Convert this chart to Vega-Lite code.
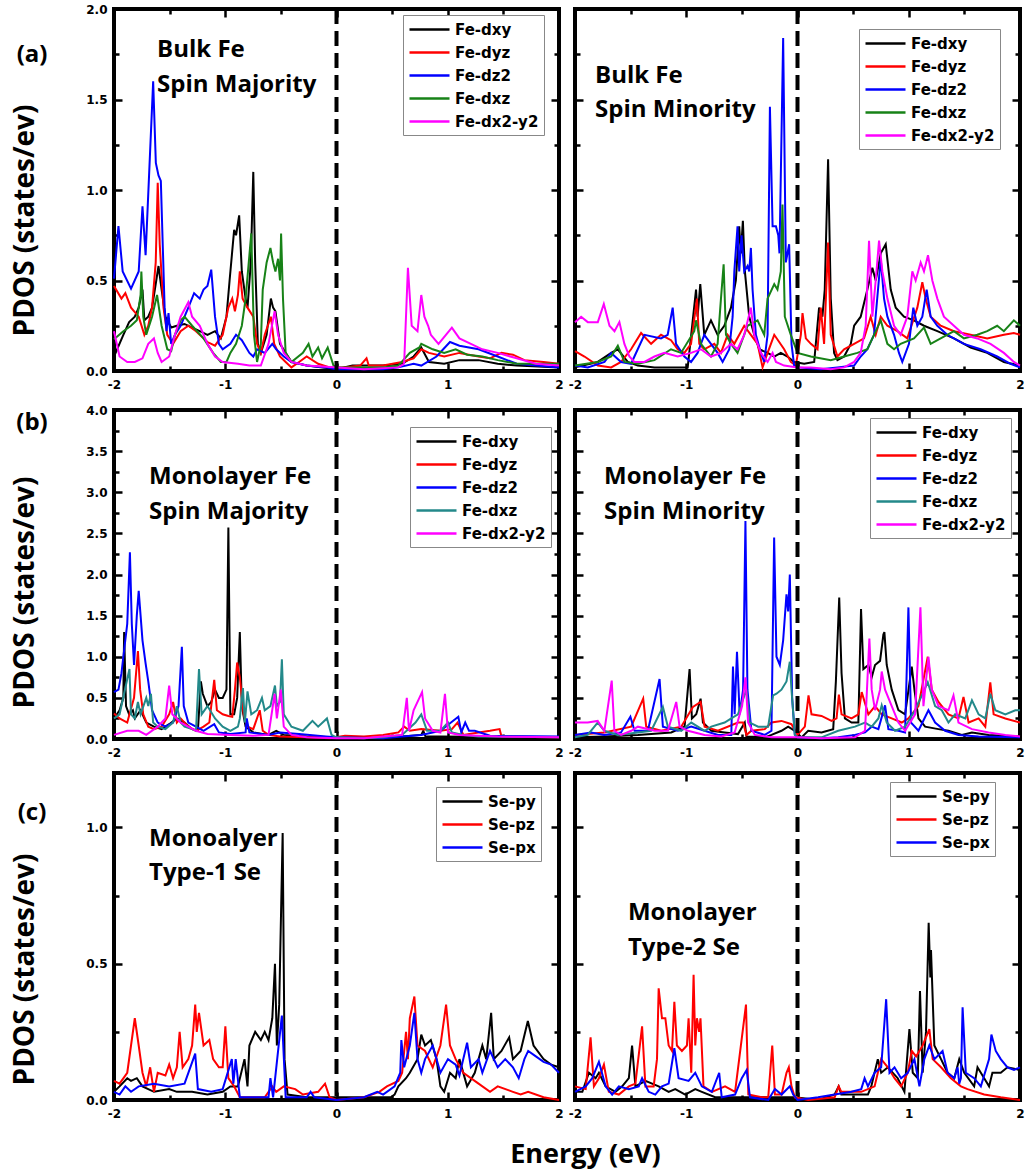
{
"$schema":"https://vega.github.io/schema/vega-lite/v6.json",
"padding":{"left":9,"top":1,"right":5,"bottom":5},
"config":{
"view":{"stroke":"#000","strokeWidth":4},
"axis":{"domain":false,"grid":false,"labelFont":"DejaVu Sans","labelFontWeight":"bold","labelFontSize":12,"labelColor":"#000","tickColor":"#000","tickWidth":2.5,"titleFont":"Open Sans","titleFontWeight":"bold","titleColor":"#000","labelOverlap":false,"labelFlush":false},
"legend":{"strokeColor":"#888","fillColor":"#fff","padding":5,"labelFont":"DejaVu Sans","labelFontWeight":"bold","labelFontSize":15,"labelColor":"#000","rowPadding":5},
"text":{"font":"Open Sans","fontWeight":"bold","color":"#000"}
},
"datasets":{
"a1":[
{"e":-2,"v":0.08,"s":"Fe-dxy"},{"e":-1.916,"v":0.2,"s":"Fe-dxy"},{"e":-1.864,"v":0.27,"s":"Fe-dxy"},{"e":-1.813,"v":0.3,"s":"Fe-dxy"},{"e":-1.778,"v":0.35,"s":"Fe-dxy"},{"e":-1.744,"v":0.45,"s":"Fe-dxy"},{"e":-1.727,"v":0.28,"s":"Fe-dxy"},{"e":-1.692,"v":0.3,"s":"Fe-dxy"},{"e":-1.658,"v":0.35,"s":"Fe-dxy"},{"e":-1.6,"v":0.58,"s":"Fe-dxy"},{"e":-1.572,"v":0.45,"s":"Fe-dxy"},{"e":-1.538,"v":0.3,"s":"Fe-dxy"},{"e":-1.486,"v":0.24,"s":"Fe-dxy"},{"e":-1.435,"v":0.25,"s":"Fe-dxy"},{"e":-1.366,"v":0.26,"s":"Fe-dxy"},{"e":-1.298,"v":0.24,"s":"Fe-dxy"},{"e":-1.229,"v":0.22,"s":"Fe-dxy"},{"e":-1.16,"v":0.2,"s":"Fe-dxy"},{"e":-1.092,"v":0.22,"s":"Fe-dxy"},{"e":-1.04,"v":0.18,"s":"Fe-dxy"},{"e":-0.989,"v":0.3,"s":"Fe-dxy"},{"e":-0.961,"v":0.5,"s":"Fe-dxy"},{"e":-0.92,"v":0.78,"s":"Fe-dxy"},{"e":-0.903,"v":0.75,"s":"Fe-dxy"},{"e":-0.875,"v":0.86,"s":"Fe-dxy"},{"e":-0.851,"v":0.55,"s":"Fe-dxy"},{"e":-0.817,"v":0.4,"s":"Fe-dxy"},{"e":-0.8,"v":0.35,"s":"Fe-dxy"},{"e":-0.776,"v":0.55,"s":"Fe-dxy"},{"e":-0.766,"v":0.7,"s":"Fe-dxy"},{"e":-0.748,"v":1.1,"s":"Fe-dxy"},{"e":-0.731,"v":0.6,"s":"Fe-dxy"},{"e":-0.707,"v":0.15,"s":"Fe-dxy"},{"e":-0.68,"v":0.1,"s":"Fe-dxy"},{"e":-0.628,"v":0.2,"s":"Fe-dxy"},{"e":-0.59,"v":0.4,"s":"Fe-dxy"},{"e":-0.57,"v":0.35,"s":"Fe-dxy"},{"e":-0.549,"v":0.33,"s":"Fe-dxy"},{"e":-0.508,"v":0.15,"s":"Fe-dxy"},{"e":-0.457,"v":0.1,"s":"Fe-dxy"},{"e":-0.405,"v":0.05,"s":"Fe-dxy"},{"e":-0.268,"v":0.03,"s":"Fe-dxy"},{"e":0,"v":0.01,"s":"Fe-dxy"},{"e":0.144,"v":0.03,"s":"Fe-dxy"},{"e":0.419,"v":0.03,"s":"Fe-dxy"},{"e":0.59,"v":0.04,"s":"Fe-dxy"},{"e":0.693,"v":0.08,"s":"Fe-dxy"},{"e":0.762,"v":0.13,"s":"Fe-dxy"},{"e":0.831,"v":0.05,"s":"Fe-dxy"},{"e":0.968,"v":0.04,"s":"Fe-dxy"},{"e":1.105,"v":0.06,"s":"Fe-dxy"},{"e":1.277,"v":0.06,"s":"Fe-dxy"},{"e":1.449,"v":0.04,"s":"Fe-dxy"},{"e":1.62,"v":0.03,"s":"Fe-dxy"},{"e":2,"v":0.02,"s":"Fe-dxy"},
{"e":-2,"v":0.47,"s":"Fe-dyz"},{"e":-1.933,"v":0.4,"s":"Fe-dyz"},{"e":-1.898,"v":0.43,"s":"Fe-dyz"},{"e":-1.847,"v":0.35,"s":"Fe-dyz"},{"e":-1.778,"v":0.3,"s":"Fe-dyz"},{"e":-1.727,"v":0.2,"s":"Fe-dyz"},{"e":-1.692,"v":0.25,"s":"Fe-dyz"},{"e":-1.658,"v":0.35,"s":"Fe-dyz"},{"e":-1.625,"v":0.6,"s":"Fe-dyz"},{"e":-1.607,"v":1.04,"s":"Fe-dyz"},{"e":-1.589,"v":0.7,"s":"Fe-dyz"},{"e":-1.555,"v":0.35,"s":"Fe-dyz"},{"e":-1.521,"v":0.2,"s":"Fe-dyz"},{"e":-1.469,"v":0.15,"s":"Fe-dyz"},{"e":-1.401,"v":0.22,"s":"Fe-dyz"},{"e":-1.332,"v":0.25,"s":"Fe-dyz"},{"e":-1.263,"v":0.22,"s":"Fe-dyz"},{"e":-1.16,"v":0.16,"s":"Fe-dyz"},{"e":-1.092,"v":0.14,"s":"Fe-dyz"},{"e":-1.023,"v":0.2,"s":"Fe-dyz"},{"e":-0.972,"v":0.35,"s":"Fe-dyz"},{"e":-0.937,"v":0.4,"s":"Fe-dyz"},{"e":-0.913,"v":0.33,"s":"Fe-dyz"},{"e":-0.886,"v":0.42,"s":"Fe-dyz"},{"e":-0.869,"v":0.55,"s":"Fe-dyz"},{"e":-0.844,"v":0.4,"s":"Fe-dyz"},{"e":-0.8,"v":0.35,"s":"Fe-dyz"},{"e":-0.748,"v":0.3,"s":"Fe-dyz"},{"e":-0.714,"v":0.15,"s":"Fe-dyz"},{"e":-0.68,"v":0.1,"s":"Fe-dyz"},{"e":-0.645,"v":0.2,"s":"Fe-dyz"},{"e":-0.59,"v":0.3,"s":"Fe-dyz"},{"e":-0.56,"v":0.15,"s":"Fe-dyz"},{"e":-0.508,"v":0.08,"s":"Fe-dyz"},{"e":-0.457,"v":0.05,"s":"Fe-dyz"},{"e":-0.405,"v":0.02,"s":"Fe-dyz"},{"e":-0.336,"v":0.05,"s":"Fe-dyz"},{"e":-0.268,"v":0.08,"s":"Fe-dyz"},{"e":-0.165,"v":0.04,"s":"Fe-dyz"},{"e":-0.062,"v":0.02,"s":"Fe-dyz"},{"e":0.076,"v":0.02,"s":"Fe-dyz"},{"e":0.213,"v":0.03,"s":"Fe-dyz"},{"e":0.27,"v":0.07,"s":"Fe-dyz"},{"e":0.29,"v":0.03,"s":"Fe-dyz"},{"e":0.419,"v":0.03,"s":"Fe-dyz"},{"e":0.59,"v":0.05,"s":"Fe-dyz"},{"e":0.693,"v":0.07,"s":"Fe-dyz"},{"e":0.762,"v":0.12,"s":"Fe-dyz"},{"e":0.831,"v":0.1,"s":"Fe-dyz"},{"e":0.968,"v":0.08,"s":"Fe-dyz"},{"e":1.105,"v":0.1,"s":"Fe-dyz"},{"e":1.277,"v":0.08,"s":"Fe-dyz"},{"e":1.38,"v":0.07,"s":"Fe-dyz"},{"e":1.483,"v":0.1,"s":"Fe-dyz"},{"e":1.586,"v":0.09,"s":"Fe-dyz"},{"e":1.689,"v":0.06,"s":"Fe-dyz"},{"e":1.861,"v":0.05,"s":"Fe-dyz"},{"e":2,"v":0.04,"s":"Fe-dyz"},
{"e":-2,"v":0.51,"s":"Fe-dz2"},{"e":-1.96,"v":0.8,"s":"Fe-dz2"},{"e":-1.922,"v":0.55,"s":"Fe-dz2"},{"e":-1.847,"v":0.455,"s":"Fe-dz2"},{"e":-1.778,"v":0.55,"s":"Fe-dz2"},{"e":-1.744,"v":0.91,"s":"Fe-dz2"},{"e":-1.716,"v":0.64,"s":"Fe-dz2"},{"e":-1.648,"v":1.6,"s":"Fe-dz2"},{"e":-1.624,"v":1.15,"s":"Fe-dz2"},{"e":-1.6,"v":1.08,"s":"Fe-dz2"},{"e":-1.579,"v":1.05,"s":"Fe-dz2"},{"e":-1.545,"v":0.35,"s":"Fe-dz2"},{"e":-1.528,"v":0.22,"s":"Fe-dz2"},{"e":-1.51,"v":0.32,"s":"Fe-dz2"},{"e":-1.486,"v":0.15,"s":"Fe-dz2"},{"e":-1.452,"v":0.2,"s":"Fe-dz2"},{"e":-1.401,"v":0.25,"s":"Fe-dz2"},{"e":-1.332,"v":0.35,"s":"Fe-dz2"},{"e":-1.28,"v":0.43,"s":"Fe-dz2"},{"e":-1.229,"v":0.4,"s":"Fe-dz2"},{"e":-1.195,"v":0.45,"s":"Fe-dz2"},{"e":-1.16,"v":0.47,"s":"Fe-dz2"},{"e":-1.126,"v":0.56,"s":"Fe-dz2"},{"e":-1.092,"v":0.3,"s":"Fe-dz2"},{"e":-1.057,"v":0.15,"s":"Fe-dz2"},{"e":-1.023,"v":0.12,"s":"Fe-dz2"},{"e":-0.954,"v":0.15,"s":"Fe-dz2"},{"e":-0.903,"v":0.2,"s":"Fe-dz2"},{"e":-0.851,"v":0.17,"s":"Fe-dz2"},{"e":-0.783,"v":0.1,"s":"Fe-dz2"},{"e":-0.748,"v":0.08,"s":"Fe-dz2"},{"e":-0.714,"v":0.12,"s":"Fe-dz2"},{"e":-0.645,"v":0.1,"s":"Fe-dz2"},{"e":-0.577,"v":0.15,"s":"Fe-dz2"},{"e":-0.542,"v":0.12,"s":"Fe-dz2"},{"e":-0.474,"v":0.08,"s":"Fe-dz2"},{"e":-0.405,"v":0.05,"s":"Fe-dz2"},{"e":-0.268,"v":0.03,"s":"Fe-dz2"},{"e":-0.096,"v":0.02,"s":"Fe-dz2"},{"e":0,"v":0.01,"s":"Fe-dz2"},{"e":0.419,"v":0.01,"s":"Fe-dz2"},{"e":0.556,"v":0.02,"s":"Fe-dz2"},{"e":0.693,"v":0.04,"s":"Fe-dz2"},{"e":0.762,"v":0.03,"s":"Fe-dz2"},{"e":0.899,"v":0.08,"s":"Fe-dz2"},{"e":1.02,"v":0.16,"s":"Fe-dz2"},{"e":1.105,"v":0.14,"s":"Fe-dz2"},{"e":1.277,"v":0.12,"s":"Fe-dz2"},{"e":1.449,"v":0.08,"s":"Fe-dz2"},{"e":1.62,"v":0.04,"s":"Fe-dz2"},{"e":2,"v":0.02,"s":"Fe-dz2"},
{"e":-2,"v":0.175,"s":"Fe-dxz"},{"e":-1.916,"v":0.22,"s":"Fe-dxz"},{"e":-1.847,"v":0.25,"s":"Fe-dxz"},{"e":-1.795,"v":0.28,"s":"Fe-dxz"},{"e":-1.761,"v":0.42,"s":"Fe-dxz"},{"e":-1.754,"v":0.55,"s":"Fe-dxz"},{"e":-1.737,"v":0.3,"s":"Fe-dxz"},{"e":-1.71,"v":0.2,"s":"Fe-dxz"},{"e":-1.658,"v":0.3,"s":"Fe-dxz"},{"e":-1.613,"v":0.42,"s":"Fe-dxz"},{"e":-1.572,"v":0.25,"s":"Fe-dxz"},{"e":-1.521,"v":0.12,"s":"Fe-dxz"},{"e":-1.486,"v":0.11,"s":"Fe-dxz"},{"e":-1.452,"v":0.2,"s":"Fe-dxz"},{"e":-1.401,"v":0.28,"s":"Fe-dxz"},{"e":-1.366,"v":0.3,"s":"Fe-dxz"},{"e":-1.298,"v":0.25,"s":"Fe-dxz"},{"e":-1.195,"v":0.18,"s":"Fe-dxz"},{"e":-1.109,"v":0.1,"s":"Fe-dxz"},{"e":-1.04,"v":0.05,"s":"Fe-dxz"},{"e":-0.989,"v":0.05,"s":"Fe-dxz"},{"e":-0.954,"v":0.1,"s":"Fe-dxz"},{"e":-0.903,"v":0.15,"s":"Fe-dxz"},{"e":-0.851,"v":0.25,"s":"Fe-dxz"},{"e":-0.817,"v":0.4,"s":"Fe-dxz"},{"e":-0.766,"v":0.76,"s":"Fe-dxz"},{"e":-0.742,"v":0.2,"s":"Fe-dxz"},{"e":-0.714,"v":0.05,"s":"Fe-dxz"},{"e":-0.68,"v":0.15,"s":"Fe-dxz"},{"e":-0.663,"v":0.45,"s":"Fe-dxz"},{"e":-0.628,"v":0.6,"s":"Fe-dxz"},{"e":-0.594,"v":0.68,"s":"Fe-dxz"},{"e":-0.57,"v":0.6,"s":"Fe-dxz"},{"e":-0.549,"v":0.55,"s":"Fe-dxz"},{"e":-0.525,"v":0.62,"s":"Fe-dxz"},{"e":-0.508,"v":0.5,"s":"Fe-dxz"},{"e":-0.498,"v":0.76,"s":"Fe-dxz"},{"e":-0.481,"v":0.4,"s":"Fe-dxz"},{"e":-0.457,"v":0.1,"s":"Fe-dxz"},{"e":-0.405,"v":0.05,"s":"Fe-dxz"},{"e":-0.302,"v":0.1,"s":"Fe-dxz"},{"e":-0.251,"v":0.15,"s":"Fe-dxz"},{"e":-0.216,"v":0.08,"s":"Fe-dxz"},{"e":-0.165,"v":0.13,"s":"Fe-dxz"},{"e":-0.13,"v":0.07,"s":"Fe-dxz"},{"e":-0.079,"v":0.13,"s":"Fe-dxz"},{"e":-0.027,"v":0.03,"s":"Fe-dxz"},{"e":0,"v":0.02,"s":"Fe-dxz"},{"e":0.419,"v":0.02,"s":"Fe-dxz"},{"e":0.556,"v":0.03,"s":"Fe-dxz"},{"e":0.659,"v":0.1,"s":"Fe-dxz"},{"e":0.745,"v":0.13,"s":"Fe-dxz"},{"e":0.762,"v":0.15,"s":"Fe-dxz"},{"e":0.865,"v":0.12,"s":"Fe-dxz"},{"e":0.968,"v":0.1,"s":"Fe-dxz"},{"e":1.071,"v":0.12,"s":"Fe-dxz"},{"e":1.174,"v":0.09,"s":"Fe-dxz"},{"e":1.311,"v":0.08,"s":"Fe-dxz"},{"e":1.449,"v":0.06,"s":"Fe-dxz"},{"e":1.62,"v":0.04,"s":"Fe-dxz"},{"e":2,"v":0.04,"s":"Fe-dxz"},
{"e":-2,"v":0.22,"s":"Fe-dx2-y2"},{"e":-1.95,"v":0.08,"s":"Fe-dx2-y2"},{"e":-1.881,"v":0.05,"s":"Fe-dx2-y2"},{"e":-1.813,"v":0.05,"s":"Fe-dx2-y2"},{"e":-1.744,"v":0.07,"s":"Fe-dx2-y2"},{"e":-1.692,"v":0.15,"s":"Fe-dx2-y2"},{"e":-1.641,"v":0.18,"s":"Fe-dx2-y2"},{"e":-1.607,"v":0.1,"s":"Fe-dx2-y2"},{"e":-1.572,"v":0.05,"s":"Fe-dx2-y2"},{"e":-1.504,"v":0.08,"s":"Fe-dx2-y2"},{"e":-1.452,"v":0.2,"s":"Fe-dx2-y2"},{"e":-1.401,"v":0.3,"s":"Fe-dx2-y2"},{"e":-1.332,"v":0.38,"s":"Fe-dx2-y2"},{"e":-1.298,"v":0.3,"s":"Fe-dx2-y2"},{"e":-1.229,"v":0.25,"s":"Fe-dx2-y2"},{"e":-1.16,"v":0.15,"s":"Fe-dx2-y2"},{"e":-1.092,"v":0.08,"s":"Fe-dx2-y2"},{"e":-1.023,"v":0.05,"s":"Fe-dx2-y2"},{"e":-0.886,"v":0.04,"s":"Fe-dx2-y2"},{"e":-0.783,"v":0.03,"s":"Fe-dx2-y2"},{"e":-0.68,"v":0.03,"s":"Fe-dx2-y2"},{"e":-0.611,"v":0.15,"s":"Fe-dx2-y2"},{"e":-0.556,"v":0.33,"s":"Fe-dx2-y2"},{"e":-0.525,"v":0.2,"s":"Fe-dx2-y2"},{"e":-0.474,"v":0.1,"s":"Fe-dx2-y2"},{"e":-0.405,"v":0.05,"s":"Fe-dx2-y2"},{"e":-0.268,"v":0.03,"s":"Fe-dx2-y2"},{"e":0.007,"v":0.02,"s":"Fe-dx2-y2"},{"e":0.247,"v":0.01,"s":"Fe-dx2-y2"},{"e":0.556,"v":0.02,"s":"Fe-dx2-y2"},{"e":0.608,"v":0.04,"s":"Fe-dx2-y2"},{"e":0.642,"v":0.57,"s":"Fe-dx2-y2"},{"e":0.676,"v":0.25,"s":"Fe-dx2-y2"},{"e":0.728,"v":0.22,"s":"Fe-dx2-y2"},{"e":0.762,"v":0.42,"s":"Fe-dx2-y2"},{"e":0.79,"v":0.3,"s":"Fe-dx2-y2"},{"e":0.824,"v":0.25,"s":"Fe-dx2-y2"},{"e":0.848,"v":0.2,"s":"Fe-dx2-y2"},{"e":0.917,"v":0.15,"s":"Fe-dx2-y2"},{"e":1.037,"v":0.24,"s":"Fe-dx2-y2"},{"e":1.105,"v":0.18,"s":"Fe-dx2-y2"},{"e":1.208,"v":0.15,"s":"Fe-dx2-y2"},{"e":1.311,"v":0.12,"s":"Fe-dx2-y2"},{"e":1.449,"v":0.1,"s":"Fe-dx2-y2"},{"e":1.62,"v":0.07,"s":"Fe-dx2-y2"},{"e":1.792,"v":0.04,"s":"Fe-dx2-y2"},{"e":2,"v":0.03,"s":"Fe-dx2-y2"}
],
"a2":[
{"e":-2,"v":0.02,"s":"Fe-dxy"},{"e":-1.795,"v":0.05,"s":"Fe-dxy"},{"e":-1.675,"v":0.1,"s":"Fe-dxy"},{"e":-1.615,"v":0.12,"s":"Fe-dxy"},{"e":-1.526,"v":0.05,"s":"Fe-dxy"},{"e":-1.436,"v":0.03,"s":"Fe-dxy"},{"e":-1.286,"v":0.02,"s":"Fe-dxy"},{"e":-0.987,"v":0.02,"s":"Fe-dxy"},{"e":-0.912,"v":0.45,"s":"Fe-dxy"},{"e":-0.898,"v":0.3,"s":"Fe-dxy"},{"e":-0.874,"v":0.48,"s":"Fe-dxy"},{"e":-0.838,"v":0.2,"s":"Fe-dxy"},{"e":-0.778,"v":0.28,"s":"Fe-dxy"},{"e":-0.718,"v":0.2,"s":"Fe-dxy"},{"e":-0.658,"v":0.25,"s":"Fe-dxy"},{"e":-0.598,"v":0.35,"s":"Fe-dxy"},{"e":-0.554,"v":0.5,"s":"Fe-dxy"},{"e":-0.524,"v":0.8,"s":"Fe-dxy"},{"e":-0.509,"v":0.65,"s":"Fe-dxy"},{"e":-0.491,"v":0.83,"s":"Fe-dxy"},{"e":-0.473,"v":0.55,"s":"Fe-dxy"},{"e":-0.434,"v":0.3,"s":"Fe-dxy"},{"e":-0.389,"v":0.2,"s":"Fe-dxy"},{"e":-0.344,"v":0.12,"s":"Fe-dxy"},{"e":-0.269,"v":0.1,"s":"Fe-dxy"},{"e":-0.209,"v":0.08,"s":"Fe-dxy"},{"e":-0.15,"v":0.1,"s":"Fe-dxy"},{"e":-0.09,"v":0.08,"s":"Fe-dxy"},{"e":-0.03,"v":0.05,"s":"Fe-dxy"},{"e":0.06,"v":0.04,"s":"Fe-dxy"},{"e":0.15,"v":0.05,"s":"Fe-dxy"},{"e":0.194,"v":0.35,"s":"Fe-dxy"},{"e":0.224,"v":0.3,"s":"Fe-dxy"},{"e":0.245,"v":0.45,"s":"Fe-dxy"},{"e":0.275,"v":1.17,"s":"Fe-dxy"},{"e":0.299,"v":0.4,"s":"Fe-dxy"},{"e":0.329,"v":0.1,"s":"Fe-dxy"},{"e":0.359,"v":0.06,"s":"Fe-dxy"},{"e":0.419,"v":0.08,"s":"Fe-dxy"},{"e":0.479,"v":0.15,"s":"Fe-dxy"},{"e":0.509,"v":0.25,"s":"Fe-dxy"},{"e":0.568,"v":0.3,"s":"Fe-dxy"},{"e":0.628,"v":0.45,"s":"Fe-dxy"},{"e":0.673,"v":0.57,"s":"Fe-dxy"},{"e":0.703,"v":0.5,"s":"Fe-dxy"},{"e":0.748,"v":0.65,"s":"Fe-dxy"},{"e":0.793,"v":0.7,"s":"Fe-dxy"},{"e":0.838,"v":0.45,"s":"Fe-dxy"},{"e":0.883,"v":0.35,"s":"Fe-dxy"},{"e":0.957,"v":0.3,"s":"Fe-dxy"},{"e":1.047,"v":0.28,"s":"Fe-dxy"},{"e":1.137,"v":0.25,"s":"Fe-dxy"},{"e":1.257,"v":0.22,"s":"Fe-dxy"},{"e":1.406,"v":0.18,"s":"Fe-dxy"},{"e":1.556,"v":0.13,"s":"Fe-dxy"},{"e":1.705,"v":0.1,"s":"Fe-dxy"},{"e":1.855,"v":0.05,"s":"Fe-dxy"},{"e":2,"v":0.03,"s":"Fe-dxy"},
{"e":-2,"v":0.11,"s":"Fe-dyz"},{"e":-1.915,"v":0.08,"s":"Fe-dyz"},{"e":-1.795,"v":0.03,"s":"Fe-dyz"},{"e":-1.675,"v":0.02,"s":"Fe-dyz"},{"e":-1.586,"v":0.05,"s":"Fe-dyz"},{"e":-1.496,"v":0.12,"s":"Fe-dyz"},{"e":-1.406,"v":0.21,"s":"Fe-dyz"},{"e":-1.316,"v":0.15,"s":"Fe-dyz"},{"e":-1.227,"v":0.2,"s":"Fe-dyz"},{"e":-1.137,"v":0.17,"s":"Fe-dyz"},{"e":-1.077,"v":0.12,"s":"Fe-dyz"},{"e":-1.017,"v":0.1,"s":"Fe-dyz"},{"e":-0.957,"v":0.15,"s":"Fe-dyz"},{"e":-0.904,"v":0.4,"s":"Fe-dyz"},{"e":-0.883,"v":0.15,"s":"Fe-dyz"},{"e":-0.838,"v":0.12,"s":"Fe-dyz"},{"e":-0.748,"v":0.15,"s":"Fe-dyz"},{"e":-0.688,"v":0.1,"s":"Fe-dyz"},{"e":-0.628,"v":0.2,"s":"Fe-dyz"},{"e":-0.568,"v":0.15,"s":"Fe-dyz"},{"e":-0.479,"v":0.25,"s":"Fe-dyz"},{"e":-0.419,"v":0.2,"s":"Fe-dyz"},{"e":-0.359,"v":0.15,"s":"Fe-dyz"},{"e":-0.314,"v":0.02,"s":"Fe-dyz"},{"e":-0.269,"v":0.1,"s":"Fe-dyz"},{"e":-0.209,"v":0.2,"s":"Fe-dyz"},{"e":-0.12,"v":0.12,"s":"Fe-dyz"},{"e":-0.06,"v":0.05,"s":"Fe-dyz"},{"e":-0.015,"v":0.03,"s":"Fe-dyz"},{"e":0.03,"v":0.2,"s":"Fe-dyz"},{"e":0.045,"v":0.32,"s":"Fe-dyz"},{"e":0.075,"v":0.18,"s":"Fe-dyz"},{"e":0.12,"v":0.15,"s":"Fe-dyz"},{"e":0.18,"v":0.12,"s":"Fe-dyz"},{"e":0.209,"v":0.35,"s":"Fe-dyz"},{"e":0.239,"v":0.15,"s":"Fe-dyz"},{"e":0.275,"v":0.71,"s":"Fe-dyz"},{"e":0.299,"v":0.2,"s":"Fe-dyz"},{"e":0.359,"v":0.08,"s":"Fe-dyz"},{"e":0.419,"v":0.12,"s":"Fe-dyz"},{"e":0.509,"v":0.15,"s":"Fe-dyz"},{"e":0.598,"v":0.18,"s":"Fe-dyz"},{"e":0.658,"v":0.3,"s":"Fe-dyz"},{"e":0.703,"v":0.2,"s":"Fe-dyz"},{"e":0.748,"v":0.3,"s":"Fe-dyz"},{"e":0.808,"v":0.25,"s":"Fe-dyz"},{"e":0.898,"v":0.22,"s":"Fe-dyz"},{"e":0.987,"v":0.18,"s":"Fe-dyz"},{"e":1.077,"v":0.35,"s":"Fe-dyz"},{"e":1.122,"v":0.49,"s":"Fe-dyz"},{"e":1.152,"v":0.4,"s":"Fe-dyz"},{"e":1.197,"v":0.3,"s":"Fe-dyz"},{"e":1.287,"v":0.25,"s":"Fe-dyz"},{"e":1.406,"v":0.22,"s":"Fe-dyz"},{"e":1.556,"v":0.2,"s":"Fe-dyz"},{"e":1.705,"v":0.18,"s":"Fe-dyz"},{"e":1.855,"v":0.2,"s":"Fe-dyz"},{"e":1.945,"v":0.21,"s":"Fe-dyz"},{"e":2,"v":0.2,"s":"Fe-dyz"},
{"e":-2,"v":0.03,"s":"Fe-dz2"},{"e":-1.885,"v":0.02,"s":"Fe-dz2"},{"e":-1.735,"v":0.05,"s":"Fe-dz2"},{"e":-1.675,"v":0.1,"s":"Fe-dz2"},{"e":-1.586,"v":0.05,"s":"Fe-dz2"},{"e":-1.496,"v":0.04,"s":"Fe-dz2"},{"e":-1.436,"v":0.12,"s":"Fe-dz2"},{"e":-1.376,"v":0.2,"s":"Fe-dz2"},{"e":-1.227,"v":0.18,"s":"Fe-dz2"},{"e":-1.167,"v":0.2,"s":"Fe-dz2"},{"e":-1.122,"v":0.35,"s":"Fe-dz2"},{"e":-1.092,"v":0.15,"s":"Fe-dz2"},{"e":-1.017,"v":0.08,"s":"Fe-dz2"},{"e":-0.957,"v":0.05,"s":"Fe-dz2"},{"e":-0.898,"v":0.1,"s":"Fe-dz2"},{"e":-0.838,"v":0.2,"s":"Fe-dz2"},{"e":-0.778,"v":0.15,"s":"Fe-dz2"},{"e":-0.718,"v":0.1,"s":"Fe-dz2"},{"e":-0.673,"v":0.05,"s":"Fe-dz2"},{"e":-0.613,"v":0.12,"s":"Fe-dz2"},{"e":-0.583,"v":0.3,"s":"Fe-dz2"},{"e":-0.568,"v":0.55,"s":"Fe-dz2"},{"e":-0.539,"v":0.8,"s":"Fe-dz2"},{"e":-0.524,"v":0.55,"s":"Fe-dz2"},{"e":-0.503,"v":0.75,"s":"Fe-dz2"},{"e":-0.479,"v":0.55,"s":"Fe-dz2"},{"e":-0.449,"v":0.58,"s":"Fe-dz2"},{"e":-0.434,"v":0.55,"s":"Fe-dz2"},{"e":-0.419,"v":0.68,"s":"Fe-dz2"},{"e":-0.404,"v":0.45,"s":"Fe-dz2"},{"e":-0.374,"v":0.2,"s":"Fe-dz2"},{"e":-0.329,"v":0.1,"s":"Fe-dz2"},{"e":-0.299,"v":0.05,"s":"Fe-dz2"},{"e":-0.269,"v":0.2,"s":"Fe-dz2"},{"e":-0.248,"v":1.46,"s":"Fe-dz2"},{"e":-0.224,"v":0.8,"s":"Fe-dz2"},{"e":-0.194,"v":0.8,"s":"Fe-dz2"},{"e":-0.173,"v":0.75,"s":"Fe-dz2"},{"e":-0.162,"v":0.65,"s":"Fe-dz2"},{"e":-0.129,"v":1.84,"s":"Fe-dz2"},{"e":-0.105,"v":0.6,"s":"Fe-dz2"},{"e":-0.075,"v":0.7,"s":"Fe-dz2"},{"e":-0.054,"v":0.15,"s":"Fe-dz2"},{"e":-0.03,"v":0.03,"s":"Fe-dz2"},{"e":0,"v":0.02,"s":"Fe-dz2"},{"e":0.209,"v":0.01,"s":"Fe-dz2"},{"e":0.359,"v":0.02,"s":"Fe-dz2"},{"e":0.509,"v":0.03,"s":"Fe-dz2"},{"e":0.568,"v":0.08,"s":"Fe-dz2"},{"e":0.628,"v":0.12,"s":"Fe-dz2"},{"e":0.688,"v":0.2,"s":"Fe-dz2"},{"e":0.748,"v":0.62,"s":"Fe-dz2"},{"e":0.778,"v":0.4,"s":"Fe-dz2"},{"e":0.808,"v":0.3,"s":"Fe-dz2"},{"e":0.868,"v":0.2,"s":"Fe-dz2"},{"e":0.912,"v":0.1,"s":"Fe-dz2"},{"e":0.942,"v":0.05,"s":"Fe-dz2"},{"e":1.002,"v":0.15,"s":"Fe-dz2"},{"e":1.041,"v":0.35,"s":"Fe-dz2"},{"e":1.077,"v":0.25,"s":"Fe-dz2"},{"e":1.122,"v":0.3,"s":"Fe-dz2"},{"e":1.161,"v":0.45,"s":"Fe-dz2"},{"e":1.197,"v":0.3,"s":"Fe-dz2"},{"e":1.257,"v":0.25,"s":"Fe-dz2"},{"e":1.346,"v":0.2,"s":"Fe-dz2"},{"e":1.496,"v":0.15,"s":"Fe-dz2"},{"e":1.646,"v":0.12,"s":"Fe-dz2"},{"e":1.795,"v":0.08,"s":"Fe-dz2"},{"e":1.915,"v":0.04,"s":"Fe-dz2"},{"e":2,"v":0.02,"s":"Fe-dz2"},
{"e":-2,"v":0.03,"s":"Fe-dxz"},{"e":-1.795,"v":0.05,"s":"Fe-dxz"},{"e":-1.675,"v":0.08,"s":"Fe-dxz"},{"e":-1.615,"v":0.14,"s":"Fe-dxz"},{"e":-1.556,"v":0.05,"s":"Fe-dxz"},{"e":-1.436,"v":0.04,"s":"Fe-dxz"},{"e":-1.286,"v":0.06,"s":"Fe-dxz"},{"e":-1.137,"v":0.12,"s":"Fe-dxz"},{"e":-1.047,"v":0.1,"s":"Fe-dxz"},{"e":-0.928,"v":0.22,"s":"Fe-dxz"},{"e":-0.912,"v":0.28,"s":"Fe-dxz"},{"e":-0.868,"v":0.15,"s":"Fe-dxz"},{"e":-0.778,"v":0.08,"s":"Fe-dxz"},{"e":-0.718,"v":0.15,"s":"Fe-dxz"},{"e":-0.688,"v":0.4,"s":"Fe-dxz"},{"e":-0.664,"v":0.59,"s":"Fe-dxz"},{"e":-0.643,"v":0.2,"s":"Fe-dxz"},{"e":-0.598,"v":0.15,"s":"Fe-dxz"},{"e":-0.539,"v":0.1,"s":"Fe-dxz"},{"e":-0.449,"v":0.25,"s":"Fe-dxz"},{"e":-0.359,"v":0.28,"s":"Fe-dxz"},{"e":-0.299,"v":0.2,"s":"Fe-dxz"},{"e":-0.269,"v":0.4,"s":"Fe-dxz"},{"e":-0.209,"v":0.48,"s":"Fe-dxz"},{"e":-0.18,"v":0.45,"s":"Fe-dxz"},{"e":-0.15,"v":0.55,"s":"Fe-dxz"},{"e":-0.135,"v":0.92,"s":"Fe-dxz"},{"e":-0.114,"v":0.3,"s":"Fe-dxz"},{"e":-0.06,"v":0.2,"s":"Fe-dxz"},{"e":0,"v":0.1,"s":"Fe-dxz"},{"e":0.12,"v":0.08,"s":"Fe-dxz"},{"e":0.299,"v":0.06,"s":"Fe-dxz"},{"e":0.419,"v":0.08,"s":"Fe-dxz"},{"e":0.538,"v":0.1,"s":"Fe-dxz"},{"e":0.628,"v":0.12,"s":"Fe-dxz"},{"e":0.688,"v":0.2,"s":"Fe-dxz"},{"e":0.748,"v":0.28,"s":"Fe-dxz"},{"e":0.808,"v":0.15,"s":"Fe-dxz"},{"e":0.868,"v":0.12,"s":"Fe-dxz"},{"e":0.927,"v":0.15,"s":"Fe-dxz"},{"e":1.047,"v":0.18,"s":"Fe-dxz"},{"e":1.137,"v":0.24,"s":"Fe-dxz"},{"e":1.197,"v":0.15,"s":"Fe-dxz"},{"e":1.287,"v":0.18,"s":"Fe-dxz"},{"e":1.406,"v":0.22,"s":"Fe-dxz"},{"e":1.496,"v":0.18,"s":"Fe-dxz"},{"e":1.616,"v":0.2,"s":"Fe-dxz"},{"e":1.705,"v":0.22,"s":"Fe-dxz"},{"e":1.795,"v":0.25,"s":"Fe-dxz"},{"e":1.855,"v":0.22,"s":"Fe-dxz"},{"e":1.945,"v":0.28,"s":"Fe-dxz"},{"e":2,"v":0.25,"s":"Fe-dxz"},
{"e":-2,"v":0.27,"s":"Fe-dx2-y2"},{"e":-1.945,"v":0.3,"s":"Fe-dx2-y2"},{"e":-1.885,"v":0.27,"s":"Fe-dx2-y2"},{"e":-1.795,"v":0.27,"s":"Fe-dx2-y2"},{"e":-1.741,"v":0.37,"s":"Fe-dx2-y2"},{"e":-1.69,"v":0.25,"s":"Fe-dx2-y2"},{"e":-1.645,"v":0.22,"s":"Fe-dx2-y2"},{"e":-1.601,"v":0.27,"s":"Fe-dx2-y2"},{"e":-1.556,"v":0.15,"s":"Fe-dx2-y2"},{"e":-1.511,"v":0.08,"s":"Fe-dx2-y2"},{"e":-1.466,"v":0.05,"s":"Fe-dx2-y2"},{"e":-1.376,"v":0.05,"s":"Fe-dx2-y2"},{"e":-1.286,"v":0.08,"s":"Fe-dx2-y2"},{"e":-1.197,"v":0.1,"s":"Fe-dx2-y2"},{"e":-1.077,"v":0.08,"s":"Fe-dx2-y2"},{"e":-0.957,"v":0.1,"s":"Fe-dx2-y2"},{"e":-0.868,"v":0.12,"s":"Fe-dx2-y2"},{"e":-0.778,"v":0.08,"s":"Fe-dx2-y2"},{"e":-0.688,"v":0.1,"s":"Fe-dx2-y2"},{"e":-0.598,"v":0.15,"s":"Fe-dx2-y2"},{"e":-0.539,"v":0.12,"s":"Fe-dx2-y2"},{"e":-0.479,"v":0.2,"s":"Fe-dx2-y2"},{"e":-0.419,"v":0.35,"s":"Fe-dx2-y2"},{"e":-0.389,"v":0.2,"s":"Fe-dx2-y2"},{"e":-0.329,"v":0.1,"s":"Fe-dx2-y2"},{"e":-0.269,"v":0.05,"s":"Fe-dx2-y2"},{"e":-0.224,"v":0.1,"s":"Fe-dx2-y2"},{"e":-0.194,"v":0.05,"s":"Fe-dx2-y2"},{"e":-0.12,"v":0.03,"s":"Fe-dx2-y2"},{"e":0,"v":0.02,"s":"Fe-dx2-y2"},{"e":0.12,"v":0.02,"s":"Fe-dx2-y2"},{"e":0.299,"v":0.01,"s":"Fe-dx2-y2"},{"e":0.419,"v":0.02,"s":"Fe-dx2-y2"},{"e":0.509,"v":0.05,"s":"Fe-dx2-y2"},{"e":0.568,"v":0.1,"s":"Fe-dx2-y2"},{"e":0.613,"v":0.25,"s":"Fe-dx2-y2"},{"e":0.643,"v":0.72,"s":"Fe-dx2-y2"},{"e":0.673,"v":0.3,"s":"Fe-dx2-y2"},{"e":0.703,"v":0.5,"s":"Fe-dx2-y2"},{"e":0.733,"v":0.72,"s":"Fe-dx2-y2"},{"e":0.763,"v":0.55,"s":"Fe-dx2-y2"},{"e":0.808,"v":0.4,"s":"Fe-dx2-y2"},{"e":0.868,"v":0.25,"s":"Fe-dx2-y2"},{"e":0.927,"v":0.2,"s":"Fe-dx2-y2"},{"e":0.987,"v":0.3,"s":"Fe-dx2-y2"},{"e":1.032,"v":0.55,"s":"Fe-dx2-y2"},{"e":1.062,"v":0.5,"s":"Fe-dx2-y2"},{"e":1.107,"v":0.6,"s":"Fe-dx2-y2"},{"e":1.137,"v":0.55,"s":"Fe-dx2-y2"},{"e":1.173,"v":0.64,"s":"Fe-dx2-y2"},{"e":1.212,"v":0.5,"s":"Fe-dx2-y2"},{"e":1.257,"v":0.4,"s":"Fe-dx2-y2"},{"e":1.316,"v":0.3,"s":"Fe-dx2-y2"},{"e":1.406,"v":0.25,"s":"Fe-dx2-y2"},{"e":1.496,"v":0.2,"s":"Fe-dx2-y2"},{"e":1.616,"v":0.18,"s":"Fe-dx2-y2"},{"e":1.735,"v":0.15,"s":"Fe-dx2-y2"},{"e":1.855,"v":0.1,"s":"Fe-dx2-y2"},{"e":1.945,"v":0.05,"s":"Fe-dx2-y2"},{"e":2,"v":0.03,"s":"Fe-dx2-y2"}
],
"b1":[
{"e":-2,"v":0.25,"s":"Fe-dxy"},{"e":-1.95,"v":0.35,"s":"Fe-dxy"},{"e":-1.916,"v":0.5,"s":"Fe-dxy"},{"e":-1.909,"v":1.3,"s":"Fe-dxy"},{"e":-1.892,"v":0.4,"s":"Fe-dxy"},{"e":-1.864,"v":0.3,"s":"Fe-dxy"},{"e":-1.83,"v":0.35,"s":"Fe-dxy"},{"e":-1.813,"v":0.25,"s":"Fe-dxy"},{"e":-1.761,"v":0.35,"s":"Fe-dxy"},{"e":-1.71,"v":0.2,"s":"Fe-dxy"},{"e":-1.641,"v":0.15,"s":"Fe-dxy"},{"e":-1.572,"v":0.12,"s":"Fe-dxy"},{"e":-1.504,"v":0.18,"s":"Fe-dxy"},{"e":-1.435,"v":0.25,"s":"Fe-dxy"},{"e":-1.366,"v":0.2,"s":"Fe-dxy"},{"e":-1.298,"v":0.12,"s":"Fe-dxy"},{"e":-1.246,"v":0.1,"s":"Fe-dxy"},{"e":-1.219,"v":0.7,"s":"Fe-dxy"},{"e":-1.202,"v":0.55,"s":"Fe-dxy"},{"e":-1.16,"v":0.4,"s":"Fe-dxy"},{"e":-1.126,"v":0.45,"s":"Fe-dxy"},{"e":-1.092,"v":0.6,"s":"Fe-dxy"},{"e":-1.057,"v":0.5,"s":"Fe-dxy"},{"e":-1.023,"v":0.5,"s":"Fe-dxy"},{"e":-0.989,"v":0.6,"s":"Fe-dxy"},{"e":-0.972,"v":2.57,"s":"Fe-dxy"},{"e":-0.954,"v":0.3,"s":"Fe-dxy"},{"e":-0.92,"v":0.3,"s":"Fe-dxy"},{"e":-0.893,"v":0.5,"s":"Fe-dxy"},{"e":-0.869,"v":1.3,"s":"Fe-dxy"},{"e":-0.851,"v":0.4,"s":"Fe-dxy"},{"e":-0.817,"v":0.15,"s":"Fe-dxy"},{"e":-0.748,"v":0.08,"s":"Fe-dxy"},{"e":-0.611,"v":0.05,"s":"Fe-dxy"},{"e":-0.542,"v":0.1,"s":"Fe-dxy"},{"e":-0.474,"v":0.05,"s":"Fe-dxy"},{"e":-0.268,"v":0.03,"s":"Fe-dxy"},{"e":0,"v":0.02,"s":"Fe-dxy"},{"e":0.247,"v":0.01,"s":"Fe-dxy"},{"e":0.419,"v":0.02,"s":"Fe-dxy"},{"e":0.59,"v":0.03,"s":"Fe-dxy"},{"e":0.762,"v":0.05,"s":"Fe-dxy"},{"e":0.78,"v":0.1,"s":"Fe-dxy"},{"e":0.8,"v":0.03,"s":"Fe-dxy"},{"e":0.934,"v":0.03,"s":"Fe-dxy"},{"e":2,"v":0.02,"s":"Fe-dxy"},
{"e":-2,"v":0.31,"s":"Fe-dyz"},{"e":-1.95,"v":0.25,"s":"Fe-dyz"},{"e":-1.881,"v":0.2,"s":"Fe-dyz"},{"e":-1.82,"v":0.5,"s":"Fe-dyz"},{"e":-1.785,"v":1.07,"s":"Fe-dyz"},{"e":-1.765,"v":0.6,"s":"Fe-dyz"},{"e":-1.737,"v":0.3,"s":"Fe-dyz"},{"e":-1.692,"v":0.15,"s":"Fe-dyz"},{"e":-1.641,"v":0.12,"s":"Fe-dyz"},{"e":-1.572,"v":0.15,"s":"Fe-dyz"},{"e":-1.504,"v":0.3,"s":"Fe-dyz"},{"e":-1.469,"v":0.45,"s":"Fe-dyz"},{"e":-1.435,"v":0.2,"s":"Fe-dyz"},{"e":-1.401,"v":0.25,"s":"Fe-dyz"},{"e":-1.332,"v":0.15,"s":"Fe-dyz"},{"e":-1.263,"v":0.1,"s":"Fe-dyz"},{"e":-1.195,"v":0.15,"s":"Fe-dyz"},{"e":-1.143,"v":0.2,"s":"Fe-dyz"},{"e":-1.099,"v":0.72,"s":"Fe-dyz"},{"e":-1.075,"v":0.35,"s":"Fe-dyz"},{"e":-1.023,"v":0.3,"s":"Fe-dyz"},{"e":-0.972,"v":0.28,"s":"Fe-dyz"},{"e":-0.937,"v":0.27,"s":"Fe-dyz"},{"e":-0.913,"v":0.6,"s":"Fe-dyz"},{"e":-0.893,"v":0.93,"s":"Fe-dyz"},{"e":-0.869,"v":0.75,"s":"Fe-dyz"},{"e":-0.835,"v":0.3,"s":"Fe-dyz"},{"e":-0.8,"v":0.15,"s":"Fe-dyz"},{"e":-0.748,"v":0.12,"s":"Fe-dyz"},{"e":-0.69,"v":0.35,"s":"Fe-dyz"},{"e":-0.663,"v":0.1,"s":"Fe-dyz"},{"e":-0.611,"v":0.05,"s":"Fe-dyz"},{"e":-0.508,"v":0.03,"s":"Fe-dyz"},{"e":-0.268,"v":0.02,"s":"Fe-dyz"},{"e":-0.062,"v":0.01,"s":"Fe-dyz"},{"e":0.076,"v":0.04,"s":"Fe-dyz"},{"e":0.247,"v":0.03,"s":"Fe-dyz"},{"e":0.419,"v":0.05,"s":"Fe-dyz"},{"e":0.556,"v":0.08,"s":"Fe-dyz"},{"e":0.608,"v":0.15,"s":"Fe-dyz"},{"e":0.659,"v":0.1,"s":"Fe-dyz"},{"e":0.762,"v":0.12,"s":"Fe-dyz"},{"e":0.934,"v":0.1,"s":"Fe-dyz"},{"e":1.037,"v":0.12,"s":"Fe-dyz"},{"e":1.088,"v":0.2,"s":"Fe-dyz"},{"e":1.14,"v":0.05,"s":"Fe-dyz"},{"e":1.277,"v":0.08,"s":"Fe-dyz"},{"e":1.38,"v":0.1,"s":"Fe-dyz"},{"e":1.466,"v":0.12,"s":"Fe-dyz"},{"e":1.483,"v":0.03,"s":"Fe-dyz"},{"e":2,"v":0.02,"s":"Fe-dyz"},
{"e":-2,"v":0.57,"s":"Fe-dz2"},{"e":-1.96,"v":0.6,"s":"Fe-dz2"},{"e":-1.933,"v":0.8,"s":"Fe-dz2"},{"e":-1.916,"v":1.0,"s":"Fe-dz2"},{"e":-1.881,"v":1.4,"s":"Fe-dz2"},{"e":-1.857,"v":2.27,"s":"Fe-dz2"},{"e":-1.84,"v":1.4,"s":"Fe-dz2"},{"e":-1.82,"v":0.9,"s":"Fe-dz2"},{"e":-1.795,"v":1.5,"s":"Fe-dz2"},{"e":-1.778,"v":1.8,"s":"Fe-dz2"},{"e":-1.761,"v":1.5,"s":"Fe-dz2"},{"e":-1.744,"v":1.2,"s":"Fe-dz2"},{"e":-1.716,"v":0.92,"s":"Fe-dz2"},{"e":-1.692,"v":0.7,"s":"Fe-dz2"},{"e":-1.658,"v":0.35,"s":"Fe-dz2"},{"e":-1.607,"v":0.2,"s":"Fe-dz2"},{"e":-1.538,"v":0.15,"s":"Fe-dz2"},{"e":-1.469,"v":0.2,"s":"Fe-dz2"},{"e":-1.42,"v":0.4,"s":"Fe-dz2"},{"e":-1.39,"v":1.12,"s":"Fe-dz2"},{"e":-1.373,"v":0.4,"s":"Fe-dz2"},{"e":-1.332,"v":0.2,"s":"Fe-dz2"},{"e":-1.263,"v":0.15,"s":"Fe-dz2"},{"e":-1.195,"v":0.1,"s":"Fe-dz2"},{"e":-1.099,"v":0.18,"s":"Fe-dz2"},{"e":-1.057,"v":0.08,"s":"Fe-dz2"},{"e":-0.954,"v":0.06,"s":"Fe-dz2"},{"e":-0.817,"v":0.08,"s":"Fe-dz2"},{"e":-0.807,"v":0.25,"s":"Fe-dz2"},{"e":-0.783,"v":0.08,"s":"Fe-dz2"},{"e":-0.611,"v":0.05,"s":"Fe-dz2"},{"e":-0.508,"v":0.08,"s":"Fe-dz2"},{"e":-0.336,"v":0.06,"s":"Fe-dz2"},{"e":-0.096,"v":0.03,"s":"Fe-dz2"},{"e":0,"v":0.02,"s":"Fe-dz2"},{"e":0.419,"v":0.01,"s":"Fe-dz2"},{"e":0.59,"v":0.03,"s":"Fe-dz2"},{"e":0.762,"v":0.05,"s":"Fe-dz2"},{"e":0.934,"v":0.1,"s":"Fe-dz2"},{"e":1.095,"v":0.27,"s":"Fe-dz2"},{"e":1.122,"v":0.08,"s":"Fe-dz2"},{"e":1.157,"v":0.2,"s":"Fe-dz2"},{"e":1.191,"v":0.1,"s":"Fe-dz2"},{"e":1.243,"v":0.1,"s":"Fe-dz2"},{"e":1.38,"v":0.04,"s":"Fe-dz2"},{"e":2,"v":0.03,"s":"Fe-dz2"},
{"e":-2,"v":0.25,"s":"Fe-dxz"},{"e":-1.95,"v":0.3,"s":"Fe-dxz"},{"e":-1.861,"v":0.85,"s":"Fe-dxz"},{"e":-1.847,"v":0.3,"s":"Fe-dxz"},{"e":-1.813,"v":0.25,"s":"Fe-dxz"},{"e":-1.785,"v":0.45,"s":"Fe-dxz"},{"e":-1.761,"v":0.3,"s":"Fe-dxz"},{"e":-1.71,"v":0.5,"s":"Fe-dxz"},{"e":-1.692,"v":0.4,"s":"Fe-dxz"},{"e":-1.668,"v":0.55,"s":"Fe-dxz"},{"e":-1.648,"v":0.2,"s":"Fe-dxz"},{"e":-1.607,"v":0.15,"s":"Fe-dxz"},{"e":-1.538,"v":0.12,"s":"Fe-dxz"},{"e":-1.469,"v":0.2,"s":"Fe-dxz"},{"e":-1.435,"v":0.4,"s":"Fe-dxz"},{"e":-1.401,"v":0.2,"s":"Fe-dxz"},{"e":-1.366,"v":0.15,"s":"Fe-dxz"},{"e":-1.298,"v":0.12,"s":"Fe-dxz"},{"e":-1.263,"v":0.1,"s":"Fe-dxz"},{"e":-1.236,"v":0.85,"s":"Fe-dxz"},{"e":-1.212,"v":0.3,"s":"Fe-dxz"},{"e":-1.16,"v":0.4,"s":"Fe-dxz"},{"e":-1.092,"v":0.25,"s":"Fe-dxz"},{"e":-1.023,"v":0.15,"s":"Fe-dxz"},{"e":-0.954,"v":0.1,"s":"Fe-dxz"},{"e":-0.886,"v":0.15,"s":"Fe-dxz"},{"e":-0.869,"v":0.25,"s":"Fe-dxz"},{"e":-0.841,"v":0.62,"s":"Fe-dxz"},{"e":-0.824,"v":0.2,"s":"Fe-dxz"},{"e":-0.8,"v":0.58,"s":"Fe-dxz"},{"e":-0.766,"v":0.3,"s":"Fe-dxz"},{"e":-0.714,"v":0.35,"s":"Fe-dxz"},{"e":-0.67,"v":0.5,"s":"Fe-dxz"},{"e":-0.645,"v":0.35,"s":"Fe-dxz"},{"e":-0.594,"v":0.4,"s":"Fe-dxz"},{"e":-0.553,"v":0.65,"s":"Fe-dxz"},{"e":-0.536,"v":0.4,"s":"Fe-dxz"},{"e":-0.508,"v":0.45,"s":"Fe-dxz"},{"e":-0.491,"v":0.97,"s":"Fe-dxz"},{"e":-0.474,"v":0.3,"s":"Fe-dxz"},{"e":-0.405,"v":0.15,"s":"Fe-dxz"},{"e":-0.302,"v":0.1,"s":"Fe-dxz"},{"e":-0.216,"v":0.22,"s":"Fe-dxz"},{"e":-0.165,"v":0.15,"s":"Fe-dxz"},{"e":-0.086,"v":0.25,"s":"Fe-dxz"},{"e":-0.045,"v":0.05,"s":"Fe-dxz"},{"e":0,"v":0.02,"s":"Fe-dxz"},{"e":0.247,"v":0.01,"s":"Fe-dxz"},{"e":0.419,"v":0.02,"s":"Fe-dxz"},{"e":0.59,"v":0.05,"s":"Fe-dxz"},{"e":0.71,"v":0.2,"s":"Fe-dxz"},{"e":0.762,"v":0.3,"s":"Fe-dxz"},{"e":0.814,"v":0.1,"s":"Fe-dxz"},{"e":0.934,"v":0.1,"s":"Fe-dxz"},{"e":1.002,"v":0.2,"s":"Fe-dxz"},{"e":1.037,"v":0.08,"s":"Fe-dxz"},{"e":1.14,"v":0.05,"s":"Fe-dxz"},{"e":1.277,"v":0.03,"s":"Fe-dxz"},{"e":2,"v":0.02,"s":"Fe-dxz"},
{"e":-2,"v":0.05,"s":"Fe-dx2-y2"},{"e":-1.881,"v":0.1,"s":"Fe-dx2-y2"},{"e":-1.778,"v":0.1,"s":"Fe-dx2-y2"},{"e":-1.71,"v":0.05,"s":"Fe-dx2-y2"},{"e":-1.607,"v":0.15,"s":"Fe-dx2-y2"},{"e":-1.538,"v":0.25,"s":"Fe-dx2-y2"},{"e":-1.504,"v":0.65,"s":"Fe-dx2-y2"},{"e":-1.476,"v":0.3,"s":"Fe-dx2-y2"},{"e":-1.401,"v":0.2,"s":"Fe-dx2-y2"},{"e":-1.332,"v":0.15,"s":"Fe-dx2-y2"},{"e":-1.263,"v":0.1,"s":"Fe-dx2-y2"},{"e":-1.16,"v":0.06,"s":"Fe-dx2-y2"},{"e":-0.954,"v":0.05,"s":"Fe-dx2-y2"},{"e":-0.748,"v":0.04,"s":"Fe-dx2-y2"},{"e":-0.611,"v":0.05,"s":"Fe-dx2-y2"},{"e":-0.556,"v":0.55,"s":"Fe-dx2-y2"},{"e":-0.536,"v":0.25,"s":"Fe-dx2-y2"},{"e":-0.501,"v":0.6,"s":"Fe-dx2-y2"},{"e":-0.474,"v":0.15,"s":"Fe-dx2-y2"},{"e":-0.405,"v":0.05,"s":"Fe-dx2-y2"},{"e":-0.268,"v":0.02,"s":"Fe-dx2-y2"},{"e":0,"v":0.01,"s":"Fe-dx2-y2"},{"e":0.247,"v":0.01,"s":"Fe-dx2-y2"},{"e":0.419,"v":0.03,"s":"Fe-dx2-y2"},{"e":0.59,"v":0.05,"s":"Fe-dx2-y2"},{"e":0.632,"v":0.5,"s":"Fe-dx2-y2"},{"e":0.652,"v":0.1,"s":"Fe-dx2-y2"},{"e":0.693,"v":0.35,"s":"Fe-dx2-y2"},{"e":0.745,"v":0.5,"s":"Fe-dx2-y2"},{"e":0.769,"v":0.57,"s":"Fe-dx2-y2"},{"e":0.796,"v":0.25,"s":"Fe-dx2-y2"},{"e":0.865,"v":0.1,"s":"Fe-dx2-y2"},{"e":0.934,"v":0.08,"s":"Fe-dx2-y2"},{"e":0.975,"v":0.55,"s":"Fe-dx2-y2"},{"e":1.002,"v":0.08,"s":"Fe-dx2-y2"},{"e":1.105,"v":0.05,"s":"Fe-dx2-y2"},{"e":1.449,"v":0.03,"s":"Fe-dx2-y2"},{"e":2,"v":0.02,"s":"Fe-dx2-y2"}
],
"b2":[
{"e":-2,"v":0.02,"s":"Fe-dxy"},{"e":-1.736,"v":0.03,"s":"Fe-dxy"},{"e":-1.435,"v":0.05,"s":"Fe-dxy"},{"e":-1.135,"v":0.08,"s":"Fe-dxy"},{"e":-1.015,"v":0.15,"s":"Fe-dxy"},{"e":-0.97,"v":0.85,"s":"Fe-dxy"},{"e":-0.949,"v":0.25,"s":"Fe-dxy"},{"e":-0.91,"v":0.3,"s":"Fe-dxy"},{"e":-0.871,"v":0.49,"s":"Fe-dxy"},{"e":-0.85,"v":0.2,"s":"Fe-dxy"},{"e":-0.775,"v":0.1,"s":"Fe-dxy"},{"e":-0.655,"v":0.08,"s":"Fe-dxy"},{"e":-0.535,"v":0.06,"s":"Fe-dxy"},{"e":-0.474,"v":0.2,"s":"Fe-dxy"},{"e":-0.459,"v":0.03,"s":"Fe-dxy"},{"e":-0.294,"v":0.02,"s":"Fe-dxy"},{"e":-0.234,"v":0.05,"s":"Fe-dxy"},{"e":-0.144,"v":0.1,"s":"Fe-dxy"},{"e":-0.084,"v":0.15,"s":"Fe-dxy"},{"e":-0.024,"v":0.1,"s":"Fe-dxy"},{"e":0.036,"v":0.02,"s":"Fe-dxy"},{"e":0.096,"v":0.1,"s":"Fe-dxy"},{"e":0.216,"v":0.08,"s":"Fe-dxy"},{"e":0.321,"v":0.12,"s":"Fe-dxy"},{"e":0.345,"v":0.7,"s":"Fe-dxy"},{"e":0.375,"v":1.72,"s":"Fe-dxy"},{"e":0.396,"v":0.8,"s":"Fe-dxy"},{"e":0.426,"v":0.25,"s":"Fe-dxy"},{"e":0.486,"v":0.2,"s":"Fe-dxy"},{"e":0.547,"v":0.2,"s":"Fe-dxy"},{"e":0.571,"v":1.58,"s":"Fe-dxy"},{"e":0.592,"v":0.85,"s":"Fe-dxy"},{"e":0.637,"v":0.9,"s":"Fe-dxy"},{"e":0.667,"v":0.75,"s":"Fe-dxy"},{"e":0.697,"v":0.9,"s":"Fe-dxy"},{"e":0.742,"v":0.95,"s":"Fe-dxy"},{"e":0.772,"v":1.27,"s":"Fe-dxy"},{"e":0.781,"v":1.3,"s":"Fe-dxy"},{"e":0.802,"v":0.9,"s":"Fe-dxy"},{"e":0.847,"v":0.6,"s":"Fe-dxy"},{"e":0.907,"v":0.35,"s":"Fe-dxy"},{"e":0.967,"v":0.3,"s":"Fe-dxy"},{"e":1.027,"v":0.88,"s":"Fe-dxy"},{"e":1.051,"v":0.6,"s":"Fe-dxy"},{"e":1.087,"v":0.25,"s":"Fe-dxy"},{"e":1.147,"v":0.15,"s":"Fe-dxy"},{"e":1.267,"v":0.12,"s":"Fe-dxy"},{"e":1.357,"v":0.1,"s":"Fe-dxy"},{"e":1.477,"v":0.05,"s":"Fe-dxy"},{"e":1.568,"v":0.08,"s":"Fe-dxy"},{"e":1.718,"v":0.05,"s":"Fe-dxy"},{"e":2,"v":0.03,"s":"Fe-dxy"},
{"e":-2,"v":0.05,"s":"Fe-dyz"},{"e":-1.736,"v":0.08,"s":"Fe-dyz"},{"e":-1.495,"v":0.15,"s":"Fe-dyz"},{"e":-1.387,"v":0.49,"s":"Fe-dyz"},{"e":-1.36,"v":0.15,"s":"Fe-dyz"},{"e":-1.225,"v":0.1,"s":"Fe-dyz"},{"e":-1.045,"v":0.15,"s":"Fe-dyz"},{"e":-0.94,"v":0.39,"s":"Fe-dyz"},{"e":-0.871,"v":0.45,"s":"Fe-dyz"},{"e":-0.835,"v":0.15,"s":"Fe-dyz"},{"e":-0.715,"v":0.1,"s":"Fe-dyz"},{"e":-0.535,"v":0.2,"s":"Fe-dyz"},{"e":-0.489,"v":0.2,"s":"Fe-dyz"},{"e":-0.459,"v":0.05,"s":"Fe-dyz"},{"e":-0.414,"v":0.1,"s":"Fe-dyz"},{"e":-0.294,"v":0.12,"s":"Fe-dyz"},{"e":-0.234,"v":0.2,"s":"Fe-dyz"},{"e":-0.144,"v":0.22,"s":"Fe-dyz"},{"e":-0.054,"v":0.18,"s":"Fe-dyz"},{"e":0,"v":0.05,"s":"Fe-dyz"},{"e":0.066,"v":0.15,"s":"Fe-dyz"},{"e":0.099,"v":0.53,"s":"Fe-dyz"},{"e":0.126,"v":0.3,"s":"Fe-dyz"},{"e":0.216,"v":0.28,"s":"Fe-dyz"},{"e":0.306,"v":0.22,"s":"Fe-dyz"},{"e":0.351,"v":0.25,"s":"Fe-dyz"},{"e":0.372,"v":0.54,"s":"Fe-dyz"},{"e":0.396,"v":0.3,"s":"Fe-dyz"},{"e":0.486,"v":0.25,"s":"Fe-dyz"},{"e":0.547,"v":0.3,"s":"Fe-dyz"},{"e":0.577,"v":0.57,"s":"Fe-dyz"},{"e":0.637,"v":0.3,"s":"Fe-dyz"},{"e":0.697,"v":0.4,"s":"Fe-dyz"},{"e":0.757,"v":0.3,"s":"Fe-dyz"},{"e":0.847,"v":0.25,"s":"Fe-dyz"},{"e":0.937,"v":0.2,"s":"Fe-dyz"},{"e":0.997,"v":0.25,"s":"Fe-dyz"},{"e":1.087,"v":0.4,"s":"Fe-dyz"},{"e":1.171,"v":1.0,"s":"Fe-dyz"},{"e":1.207,"v":0.6,"s":"Fe-dyz"},{"e":1.267,"v":0.45,"s":"Fe-dyz"},{"e":1.357,"v":0.3,"s":"Fe-dyz"},{"e":1.447,"v":0.25,"s":"Fe-dyz"},{"e":1.492,"v":0.51,"s":"Fe-dyz"},{"e":1.538,"v":0.2,"s":"Fe-dyz"},{"e":1.628,"v":0.25,"s":"Fe-dyz"},{"e":1.688,"v":0.15,"s":"Fe-dyz"},{"e":1.733,"v":0.69,"s":"Fe-dyz"},{"e":1.763,"v":0.3,"s":"Fe-dyz"},{"e":1.868,"v":0.25,"s":"Fe-dyz"},{"e":2,"v":0.2,"s":"Fe-dyz"},
{"e":-2,"v":0.05,"s":"Fe-dz2"},{"e":-1.856,"v":0.08,"s":"Fe-dz2"},{"e":-1.736,"v":0.05,"s":"Fe-dz2"},{"e":-1.586,"v":0.08,"s":"Fe-dz2"},{"e":-1.502,"v":0.27,"s":"Fe-dz2"},{"e":-1.465,"v":0.1,"s":"Fe-dz2"},{"e":-1.345,"v":0.1,"s":"Fe-dz2"},{"e":-1.24,"v":0.73,"s":"Fe-dz2"},{"e":-1.21,"v":0.15,"s":"Fe-dz2"},{"e":-1.075,"v":0.1,"s":"Fe-dz2"},{"e":-0.955,"v":0.15,"s":"Fe-dz2"},{"e":-0.835,"v":0.1,"s":"Fe-dz2"},{"e":-0.715,"v":0.05,"s":"Fe-dz2"},{"e":-0.595,"v":0.05,"s":"Fe-dz2"},{"e":-0.58,"v":0.88,"s":"Fe-dz2"},{"e":-0.565,"v":0.3,"s":"Fe-dz2"},{"e":-0.544,"v":1.06,"s":"Fe-dz2"},{"e":-0.52,"v":0.3,"s":"Fe-dz2"},{"e":-0.489,"v":0.6,"s":"Fe-dz2"},{"e":-0.468,"v":2.65,"s":"Fe-dz2"},{"e":-0.45,"v":0.6,"s":"Fe-dz2"},{"e":-0.414,"v":0.1,"s":"Fe-dz2"},{"e":-0.294,"v":0.05,"s":"Fe-dz2"},{"e":-0.234,"v":0.1,"s":"Fe-dz2"},{"e":-0.21,"v":2.45,"s":"Fe-dz2"},{"e":-0.189,"v":1.0,"s":"Fe-dz2"},{"e":-0.159,"v":0.9,"s":"Fe-dz2"},{"e":-0.129,"v":1.2,"s":"Fe-dz2"},{"e":-0.099,"v":1.76,"s":"Fe-dz2"},{"e":-0.084,"v":1.55,"s":"Fe-dz2"},{"e":-0.069,"v":2.0,"s":"Fe-dz2"},{"e":-0.048,"v":0.5,"s":"Fe-dz2"},{"e":-0.024,"v":0.05,"s":"Fe-dz2"},{"e":0,"v":0.02,"s":"Fe-dz2"},{"e":0.216,"v":0.01,"s":"Fe-dz2"},{"e":0.366,"v":0.02,"s":"Fe-dz2"},{"e":0.517,"v":0.05,"s":"Fe-dz2"},{"e":0.607,"v":0.08,"s":"Fe-dz2"},{"e":0.667,"v":0.15,"s":"Fe-dz2"},{"e":0.727,"v":0.12,"s":"Fe-dz2"},{"e":0.787,"v":0.41,"s":"Fe-dz2"},{"e":0.817,"v":0.12,"s":"Fe-dz2"},{"e":0.907,"v":0.1,"s":"Fe-dz2"},{"e":0.967,"v":0.08,"s":"Fe-dz2"},{"e":0.997,"v":1.6,"s":"Fe-dz2"},{"e":1.021,"v":0.2,"s":"Fe-dz2"},{"e":1.087,"v":0.1,"s":"Fe-dz2"},{"e":1.177,"v":0.35,"s":"Fe-dz2"},{"e":1.237,"v":0.2,"s":"Fe-dz2"},{"e":1.327,"v":0.1,"s":"Fe-dz2"},{"e":1.447,"v":0.05,"s":"Fe-dz2"},{"e":1.628,"v":0.03,"s":"Fe-dz2"},{"e":2,"v":0.02,"s":"Fe-dz2"},
{"e":-2,"v":0.02,"s":"Fe-dxz"},{"e":-1.886,"v":0.05,"s":"Fe-dxz"},{"e":-1.796,"v":0.2,"s":"Fe-dxz"},{"e":-1.736,"v":0.1,"s":"Fe-dxz"},{"e":-1.616,"v":0.05,"s":"Fe-dxz"},{"e":-1.435,"v":0.08,"s":"Fe-dxz"},{"e":-1.315,"v":0.1,"s":"Fe-dxz"},{"e":-1.21,"v":0.39,"s":"Fe-dxz"},{"e":-1.165,"v":0.15,"s":"Fe-dxz"},{"e":-1.045,"v":0.1,"s":"Fe-dxz"},{"e":-0.955,"v":0.2,"s":"Fe-dxz"},{"e":-0.835,"v":0.1,"s":"Fe-dxz"},{"e":-0.775,"v":0.15,"s":"Fe-dxz"},{"e":-0.655,"v":0.2,"s":"Fe-dxz"},{"e":-0.595,"v":0.25,"s":"Fe-dxz"},{"e":-0.535,"v":0.3,"s":"Fe-dxz"},{"e":-0.459,"v":0.6,"s":"Fe-dxz"},{"e":-0.429,"v":0.2,"s":"Fe-dxz"},{"e":-0.354,"v":0.15,"s":"Fe-dxz"},{"e":-0.264,"v":0.15,"s":"Fe-dxz"},{"e":-0.219,"v":0.53,"s":"Fe-dxz"},{"e":-0.189,"v":0.55,"s":"Fe-dxz"},{"e":-0.144,"v":0.6,"s":"Fe-dxz"},{"e":-0.099,"v":0.7,"s":"Fe-dxz"},{"e":-0.069,"v":0.94,"s":"Fe-dxz"},{"e":-0.054,"v":0.6,"s":"Fe-dxz"},{"e":-0.024,"v":0.05,"s":"Fe-dxz"},{"e":0,"v":0.02,"s":"Fe-dxz"},{"e":0.216,"v":0.02,"s":"Fe-dxz"},{"e":0.366,"v":0.1,"s":"Fe-dxz"},{"e":0.517,"v":0.15,"s":"Fe-dxz"},{"e":0.607,"v":0.2,"s":"Fe-dxz"},{"e":0.667,"v":0.15,"s":"Fe-dxz"},{"e":0.727,"v":0.25,"s":"Fe-dxz"},{"e":0.757,"v":0.41,"s":"Fe-dxz"},{"e":0.802,"v":0.2,"s":"Fe-dxz"},{"e":0.877,"v":0.1,"s":"Fe-dxz"},{"e":0.967,"v":0.15,"s":"Fe-dxz"},{"e":1.057,"v":0.35,"s":"Fe-dxz"},{"e":1.171,"v":0.69,"s":"Fe-dxz"},{"e":1.237,"v":0.4,"s":"Fe-dxz"},{"e":1.297,"v":0.35,"s":"Fe-dxz"},{"e":1.357,"v":0.2,"s":"Fe-dxz"},{"e":1.417,"v":0.3,"s":"Fe-dxz"},{"e":1.508,"v":0.25,"s":"Fe-dxz"},{"e":1.568,"v":0.47,"s":"Fe-dxz"},{"e":1.628,"v":0.3,"s":"Fe-dxz"},{"e":1.688,"v":0.25,"s":"Fe-dxz"},{"e":1.733,"v":0.55,"s":"Fe-dxz"},{"e":1.778,"v":0.35,"s":"Fe-dxz"},{"e":1.868,"v":0.3,"s":"Fe-dxz"},{"e":1.958,"v":0.35,"s":"Fe-dxz"},{"e":2,"v":0.35,"s":"Fe-dxz"},
{"e":-2,"v":0.2,"s":"Fe-dx2-y2"},{"e":-1.886,"v":0.2,"s":"Fe-dx2-y2"},{"e":-1.796,"v":0.22,"s":"Fe-dx2-y2"},{"e":-1.736,"v":0.1,"s":"Fe-dx2-y2"},{"e":-1.67,"v":0.71,"s":"Fe-dx2-y2"},{"e":-1.646,"v":0.1,"s":"Fe-dx2-y2"},{"e":-1.586,"v":0.05,"s":"Fe-dx2-y2"},{"e":-1.495,"v":0.1,"s":"Fe-dx2-y2"},{"e":-1.435,"v":0.15,"s":"Fe-dx2-y2"},{"e":-1.285,"v":0.1,"s":"Fe-dx2-y2"},{"e":-1.165,"v":0.1,"s":"Fe-dx2-y2"},{"e":-1.09,"v":0.45,"s":"Fe-dx2-y2"},{"e":-1.06,"v":0.15,"s":"Fe-dx2-y2"},{"e":-0.985,"v":0.1,"s":"Fe-dx2-y2"},{"e":-0.835,"v":0.05,"s":"Fe-dx2-y2"},{"e":-0.685,"v":0.03,"s":"Fe-dx2-y2"},{"e":-0.565,"v":0.08,"s":"Fe-dx2-y2"},{"e":-0.498,"v":0.4,"s":"Fe-dx2-y2"},{"e":-0.468,"v":0.75,"s":"Fe-dx2-y2"},{"e":-0.444,"v":0.2,"s":"Fe-dx2-y2"},{"e":-0.384,"v":0.05,"s":"Fe-dx2-y2"},{"e":-0.234,"v":0.02,"s":"Fe-dx2-y2"},{"e":0,"v":0.02,"s":"Fe-dx2-y2"},{"e":0.216,"v":0.01,"s":"Fe-dx2-y2"},{"e":0.517,"v":0.02,"s":"Fe-dx2-y2"},{"e":0.607,"v":0.1,"s":"Fe-dx2-y2"},{"e":0.646,"v":1.22,"s":"Fe-dx2-y2"},{"e":0.667,"v":0.6,"s":"Fe-dx2-y2"},{"e":0.697,"v":0.35,"s":"Fe-dx2-y2"},{"e":0.742,"v":0.6,"s":"Fe-dx2-y2"},{"e":0.757,"v":0.82,"s":"Fe-dx2-y2"},{"e":0.787,"v":0.6,"s":"Fe-dx2-y2"},{"e":0.847,"v":0.4,"s":"Fe-dx2-y2"},{"e":0.907,"v":0.2,"s":"Fe-dx2-y2"},{"e":0.967,"v":0.1,"s":"Fe-dx2-y2"},{"e":1.057,"v":0.3,"s":"Fe-dx2-y2"},{"e":1.105,"v":1.6,"s":"Fe-dx2-y2"},{"e":1.132,"v":0.4,"s":"Fe-dx2-y2"},{"e":1.177,"v":1.0,"s":"Fe-dx2-y2"},{"e":1.207,"v":0.6,"s":"Fe-dx2-y2"},{"e":1.267,"v":0.4,"s":"Fe-dx2-y2"},{"e":1.357,"v":0.35,"s":"Fe-dx2-y2"},{"e":1.402,"v":0.53,"s":"Fe-dx2-y2"},{"e":1.447,"v":0.2,"s":"Fe-dx2-y2"},{"e":1.568,"v":0.12,"s":"Fe-dx2-y2"},{"e":1.718,"v":0.08,"s":"Fe-dx2-y2"},{"e":1.868,"v":0.05,"s":"Fe-dx2-y2"},{"e":2,"v":0.03,"s":"Fe-dx2-y2"}
],
"c1":[
{"e":-2,"v":0.03,"s":"Se-py"},{"e":-1.95,"v":0.05,"s":"Se-py"},{"e":-1.881,"v":0.08,"s":"Se-py"},{"e":-1.847,"v":0.07,"s":"Se-py"},{"e":-1.795,"v":0.08,"s":"Se-py"},{"e":-1.744,"v":0.05,"s":"Se-py"},{"e":-1.641,"v":0.03,"s":"Se-py"},{"e":-1.504,"v":0.04,"s":"Se-py"},{"e":-1.435,"v":0.03,"s":"Se-py"},{"e":-1.298,"v":0.03,"s":"Se-py"},{"e":-1.16,"v":0.02,"s":"Se-py"},{"e":-1.023,"v":0.03,"s":"Se-py"},{"e":-0.954,"v":0.05,"s":"Se-py"},{"e":-0.886,"v":0.05,"s":"Se-py"},{"e":-0.827,"v":0.15,"s":"Se-py"},{"e":-0.8,"v":0.05,"s":"Se-py"},{"e":-0.783,"v":0.2,"s":"Se-py"},{"e":-0.731,"v":0.25,"s":"Se-py"},{"e":-0.68,"v":0.22,"s":"Se-py"},{"e":-0.645,"v":0.25,"s":"Se-py"},{"e":-0.611,"v":0.22,"s":"Se-py"},{"e":-0.577,"v":0.3,"s":"Se-py"},{"e":-0.553,"v":0.5,"s":"Se-py"},{"e":-0.536,"v":0.2,"s":"Se-py"},{"e":-0.515,"v":0.35,"s":"Se-py"},{"e":-0.484,"v":0.98,"s":"Se-py"},{"e":-0.467,"v":0.15,"s":"Se-py"},{"e":-0.44,"v":0.02,"s":"Se-py"},{"e":-0.268,"v":0.01,"s":"Se-py"},{"e":0,"v":0.01,"s":"Se-py"},{"e":0.247,"v":0.01,"s":"Se-py"},{"e":0.488,"v":0.01,"s":"Se-py"},{"e":0.522,"v":0.02,"s":"Se-py"},{"e":0.556,"v":0.05,"s":"Se-py"},{"e":0.625,"v":0.08,"s":"Se-py"},{"e":0.659,"v":0.1,"s":"Se-py"},{"e":0.728,"v":0.15,"s":"Se-py"},{"e":0.762,"v":0.24,"s":"Se-py"},{"e":0.796,"v":0.2,"s":"Se-py"},{"e":0.848,"v":0.22,"s":"Se-py"},{"e":0.899,"v":0.15,"s":"Se-py"},{"e":0.934,"v":0.05,"s":"Se-py"},{"e":0.968,"v":0.03,"s":"Se-py"},{"e":1.02,"v":0.1,"s":"Se-py"},{"e":1.071,"v":0.08,"s":"Se-py"},{"e":1.105,"v":0.15,"s":"Se-py"},{"e":1.174,"v":0.05,"s":"Se-py"},{"e":1.243,"v":0.1,"s":"Se-py"},{"e":1.311,"v":0.2,"s":"Se-py"},{"e":1.346,"v":0.15,"s":"Se-py"},{"e":1.39,"v":0.32,"s":"Se-py"},{"e":1.414,"v":0.15,"s":"Se-py"},{"e":1.483,"v":0.18,"s":"Se-py"},{"e":1.552,"v":0.23,"s":"Se-py"},{"e":1.586,"v":0.15,"s":"Se-py"},{"e":1.655,"v":0.18,"s":"Se-py"},{"e":1.72,"v":0.29,"s":"Se-py"},{"e":1.771,"v":0.2,"s":"Se-py"},{"e":1.861,"v":0.15,"s":"Se-py"},{"e":1.929,"v":0.13,"s":"Se-py"},{"e":2,"v":0.12,"s":"Se-py"},
{"e":-2,"v":0.07,"s":"Se-pz"},{"e":-1.95,"v":0.06,"s":"Se-pz"},{"e":-1.881,"v":0.1,"s":"Se-pz"},{"e":-1.847,"v":0.2,"s":"Se-pz"},{"e":-1.813,"v":0.3,"s":"Se-pz"},{"e":-1.778,"v":0.2,"s":"Se-pz"},{"e":-1.744,"v":0.1,"s":"Se-pz"},{"e":-1.71,"v":0.05,"s":"Se-pz"},{"e":-1.675,"v":0.12,"s":"Se-pz"},{"e":-1.641,"v":0.03,"s":"Se-pz"},{"e":-1.607,"v":0.1,"s":"Se-pz"},{"e":-1.538,"v":0.09,"s":"Se-pz"},{"e":-1.504,"v":0.13,"s":"Se-pz"},{"e":-1.469,"v":0.08,"s":"Se-pz"},{"e":-1.435,"v":0.12,"s":"Se-pz"},{"e":-1.41,"v":0.25,"s":"Se-pz"},{"e":-1.383,"v":0.12,"s":"Se-pz"},{"e":-1.332,"v":0.15,"s":"Se-pz"},{"e":-1.298,"v":0.2,"s":"Se-pz"},{"e":-1.27,"v":0.35,"s":"Se-pz"},{"e":-1.256,"v":0.25,"s":"Se-pz"},{"e":-1.236,"v":0.32,"s":"Se-pz"},{"e":-1.195,"v":0.2,"s":"Se-pz"},{"e":-1.143,"v":0.22,"s":"Se-pz"},{"e":-1.109,"v":0.15,"s":"Se-pz"},{"e":-1.057,"v":0.12,"s":"Se-pz"},{"e":-1.023,"v":0.12,"s":"Se-pz"},{"e":-0.999,"v":0.27,"s":"Se-pz"},{"e":-0.972,"v":0.08,"s":"Se-pz"},{"e":-0.92,"v":0.05,"s":"Se-pz"},{"e":-0.869,"v":0.01,"s":"Se-pz"},{"e":-0.817,"v":0.01,"s":"Se-pz"},{"e":-0.645,"v":0.01,"s":"Se-pz"},{"e":-0.577,"v":0.05,"s":"Se-pz"},{"e":-0.542,"v":0.03,"s":"Se-pz"},{"e":-0.474,"v":0.05,"s":"Se-pz"},{"e":-0.371,"v":0.04,"s":"Se-pz"},{"e":-0.302,"v":0.02,"s":"Se-pz"},{"e":-0.165,"v":0.03,"s":"Se-pz"},{"e":-0.103,"v":0.06,"s":"Se-pz"},{"e":-0.062,"v":0.01,"s":"Se-pz"},{"e":0,"v":0.0,"s":"Se-pz"},{"e":0.247,"v":0.01,"s":"Se-pz"},{"e":0.385,"v":0.03,"s":"Se-pz"},{"e":0.453,"v":0.05,"s":"Se-pz"},{"e":0.556,"v":0.07,"s":"Se-pz"},{"e":0.59,"v":0.1,"s":"Se-pz"},{"e":0.625,"v":0.25,"s":"Se-pz"},{"e":0.642,"v":0.15,"s":"Se-pz"},{"e":0.659,"v":0.3,"s":"Se-pz"},{"e":0.7,"v":0.38,"s":"Se-pz"},{"e":0.728,"v":0.2,"s":"Se-pz"},{"e":0.796,"v":0.18,"s":"Se-pz"},{"e":0.865,"v":0.12,"s":"Se-pz"},{"e":0.934,"v":0.2,"s":"Se-pz"},{"e":0.985,"v":0.35,"s":"Se-pz"},{"e":1.02,"v":0.2,"s":"Se-pz"},{"e":1.071,"v":0.15,"s":"Se-pz"},{"e":1.14,"v":0.1,"s":"Se-pz"},{"e":1.277,"v":0.06,"s":"Se-pz"},{"e":1.38,"v":0.03,"s":"Se-pz"},{"e":1.449,"v":0.05,"s":"Se-pz"},{"e":1.586,"v":0.03,"s":"Se-pz"},{"e":1.655,"v":0.02,"s":"Se-pz"},{"e":1.723,"v":0.03,"s":"Se-pz"},{"e":1.861,"v":0.01,"s":"Se-pz"},{"e":2,"v":0.0,"s":"Se-pz"},
{"e":-2,"v":0.03,"s":"Se-px"},{"e":-1.95,"v":0.02,"s":"Se-px"},{"e":-1.898,"v":0.05,"s":"Se-px"},{"e":-1.847,"v":0.03,"s":"Se-px"},{"e":-1.778,"v":0.05,"s":"Se-px"},{"e":-1.641,"v":0.06,"s":"Se-px"},{"e":-1.504,"v":0.05,"s":"Se-px"},{"e":-1.366,"v":0.06,"s":"Se-px"},{"e":-1.27,"v":0.17,"s":"Se-px"},{"e":-1.246,"v":0.04,"s":"Se-px"},{"e":-1.126,"v":0.03,"s":"Se-px"},{"e":-1.023,"v":0.04,"s":"Se-px"},{"e":-0.941,"v":0.15,"s":"Se-px"},{"e":-0.927,"v":0.06,"s":"Se-px"},{"e":-0.906,"v":0.15,"s":"Se-px"},{"e":-0.869,"v":0.01,"s":"Se-px"},{"e":-0.611,"v":0.01,"s":"Se-px"},{"e":-0.594,"v":0.08,"s":"Se-px"},{"e":-0.57,"v":0.01,"s":"Se-px"},{"e":-0.491,"v":0.31,"s":"Se-px"},{"e":-0.457,"v":0.01,"s":"Se-px"},{"e":-0.268,"v":0.01,"s":"Se-px"},{"e":-0.233,"v":0.03,"s":"Se-px"},{"e":-0.199,"v":0.01,"s":"Se-px"},{"e":0,"v":0.0,"s":"Se-px"},{"e":0.247,"v":0.01,"s":"Se-px"},{"e":0.367,"v":0.03,"s":"Se-px"},{"e":0.419,"v":0.02,"s":"Se-px"},{"e":0.522,"v":0.05,"s":"Se-px"},{"e":0.573,"v":0.1,"s":"Se-px"},{"e":0.583,"v":0.22,"s":"Se-px"},{"e":0.608,"v":0.12,"s":"Se-px"},{"e":0.659,"v":0.2,"s":"Se-px"},{"e":0.7,"v":0.32,"s":"Se-px"},{"e":0.728,"v":0.15,"s":"Se-px"},{"e":0.762,"v":0.1,"s":"Se-px"},{"e":0.796,"v":0.15,"s":"Se-px"},{"e":0.865,"v":0.2,"s":"Se-px"},{"e":0.934,"v":0.1,"s":"Se-px"},{"e":1.002,"v":0.15,"s":"Se-px"},{"e":1.071,"v":0.13,"s":"Se-px"},{"e":1.105,"v":0.09,"s":"Se-px"},{"e":1.174,"v":0.21,"s":"Se-px"},{"e":1.208,"v":0.12,"s":"Se-px"},{"e":1.277,"v":0.15,"s":"Se-px"},{"e":1.311,"v":0.1,"s":"Se-px"},{"e":1.38,"v":0.18,"s":"Se-px"},{"e":1.449,"v":0.12,"s":"Se-px"},{"e":1.517,"v":0.15,"s":"Se-px"},{"e":1.586,"v":0.12,"s":"Se-px"},{"e":1.638,"v":0.08,"s":"Se-px"},{"e":1.689,"v":0.15,"s":"Se-px"},{"e":1.723,"v":0.18,"s":"Se-px"},{"e":1.792,"v":0.16,"s":"Se-px"},{"e":1.861,"v":0.14,"s":"Se-px"},{"e":1.929,"v":0.13,"s":"Se-px"},{"e":2,"v":0.1,"s":"Se-px"}
],
"c2":[
{"e":-2,"v":0.03,"s":"Se-py"},{"e":-1.934,"v":0.03,"s":"Se-py"},{"e":-1.875,"v":0.1,"s":"Se-py"},{"e":-1.815,"v":0.08,"s":"Se-py"},{"e":-1.785,"v":0.1,"s":"Se-py"},{"e":-1.725,"v":0.05,"s":"Se-py"},{"e":-1.636,"v":0.03,"s":"Se-py"},{"e":-1.576,"v":0.05,"s":"Se-py"},{"e":-1.516,"v":0.08,"s":"Se-py"},{"e":-1.487,"v":0.2,"s":"Se-py"},{"e":-1.457,"v":0.05,"s":"Se-py"},{"e":-1.367,"v":0.07,"s":"Se-py"},{"e":-1.248,"v":0.05,"s":"Se-py"},{"e":-1.158,"v":0.03,"s":"Se-py"},{"e":-1.099,"v":0.04,"s":"Se-py"},{"e":-1.009,"v":0.02,"s":"Se-py"},{"e":-0.919,"v":0.04,"s":"Se-py"},{"e":-0.86,"v":0.03,"s":"Se-py"},{"e":-0.74,"v":0.01,"s":"Se-py"},{"e":-0.024,"v":0.01,"s":"Se-py"},{"e":0.185,"v":0.0,"s":"Se-py"},{"e":0.334,"v":0.02,"s":"Se-py"},{"e":0.37,"v":0.05,"s":"Se-py"},{"e":0.394,"v":0.02,"s":"Se-py"},{"e":0.633,"v":0.02,"s":"Se-py"},{"e":0.663,"v":0.05,"s":"Se-py"},{"e":0.722,"v":0.15,"s":"Se-py"},{"e":0.752,"v":0.1,"s":"Se-py"},{"e":0.812,"v":0.12,"s":"Se-py"},{"e":0.901,"v":0.08,"s":"Se-py"},{"e":0.961,"v":0.03,"s":"Se-py"},{"e":1.006,"v":0.26,"s":"Se-py"},{"e":1.036,"v":0.1,"s":"Se-py"},{"e":1.081,"v":0.08,"s":"Se-py"},{"e":1.101,"v":0.4,"s":"Se-py"},{"e":1.125,"v":0.1,"s":"Se-py"},{"e":1.155,"v":0.25,"s":"Se-py"},{"e":1.179,"v":0.65,"s":"Se-py"},{"e":1.194,"v":0.45,"s":"Se-py"},{"e":1.2,"v":0.55,"s":"Se-py"},{"e":1.23,"v":0.2,"s":"Se-py"},{"e":1.29,"v":0.15,"s":"Se-py"},{"e":1.349,"v":0.1,"s":"Se-py"},{"e":1.409,"v":0.08,"s":"Se-py"},{"e":1.454,"v":0.15,"s":"Se-py"},{"e":1.499,"v":0.1,"s":"Se-py"},{"e":1.588,"v":0.05,"s":"Se-py"},{"e":1.618,"v":0.12,"s":"Se-py"},{"e":1.678,"v":0.08,"s":"Se-py"},{"e":1.722,"v":0.05,"s":"Se-py"},{"e":1.752,"v":0.1,"s":"Se-py"},{"e":1.827,"v":0.1,"s":"Se-py"},{"e":1.887,"v":0.12,"s":"Se-py"},{"e":2,"v":0.11,"s":"Se-py"},
{"e":-2,"v":0.05,"s":"Se-pz"},{"e":-1.904,"v":0.04,"s":"Se-pz"},{"e":-1.86,"v":0.23,"s":"Se-pz"},{"e":-1.83,"v":0.05,"s":"Se-pz"},{"e":-1.785,"v":0.08,"s":"Se-pz"},{"e":-1.74,"v":0.13,"s":"Se-pz"},{"e":-1.696,"v":0.03,"s":"Se-pz"},{"e":-1.606,"v":0.02,"s":"Se-pz"},{"e":-1.516,"v":0.05,"s":"Se-pz"},{"e":-1.457,"v":0.06,"s":"Se-pz"},{"e":-1.397,"v":0.27,"s":"Se-pz"},{"e":-1.367,"v":0.05,"s":"Se-pz"},{"e":-1.293,"v":0.05,"s":"Se-pz"},{"e":-1.263,"v":0.15,"s":"Se-pz"},{"e":-1.248,"v":0.41,"s":"Se-pz"},{"e":-1.218,"v":0.3,"s":"Se-pz"},{"e":-1.188,"v":0.3,"s":"Se-pz"},{"e":-1.158,"v":0.2,"s":"Se-pz"},{"e":-1.128,"v":0.18,"s":"Se-pz"},{"e":-1.107,"v":0.36,"s":"Se-pz"},{"e":-1.084,"v":0.2,"s":"Se-pz"},{"e":-1.039,"v":0.18,"s":"Se-pz"},{"e":-0.994,"v":0.2,"s":"Se-pz"},{"e":-0.979,"v":0.3,"s":"Se-pz"},{"e":-0.955,"v":0.1,"s":"Se-pz"},{"e":-0.934,"v":0.46,"s":"Se-pz"},{"e":-0.919,"v":0.2,"s":"Se-pz"},{"e":-0.904,"v":0.3,"s":"Se-pz"},{"e":-0.884,"v":0.25,"s":"Se-pz"},{"e":-0.872,"v":0.3,"s":"Se-pz"},{"e":-0.845,"v":0.05,"s":"Se-pz"},{"e":-0.77,"v":0.03,"s":"Se-pz"},{"e":-0.651,"v":0.05,"s":"Se-pz"},{"e":-0.561,"v":0.03,"s":"Se-pz"},{"e":-0.463,"v":0.35,"s":"Se-pz"},{"e":-0.442,"v":0.02,"s":"Se-pz"},{"e":-0.322,"v":0.01,"s":"Se-pz"},{"e":-0.263,"v":0.01,"s":"Se-pz"},{"e":-0.227,"v":0.2,"s":"Se-pz"},{"e":-0.203,"v":0.02,"s":"Se-pz"},{"e":-0.143,"v":0.02,"s":"Se-pz"},{"e":-0.099,"v":0.1,"s":"Se-pz"},{"e":-0.078,"v":0.12,"s":"Se-pz"},{"e":-0.054,"v":0.05,"s":"Se-pz"},{"e":-0.024,"v":0.01,"s":"Se-pz"},{"e":0.096,"v":0.0,"s":"Se-pz"},{"e":0.334,"v":0.01,"s":"Se-pz"},{"e":0.37,"v":0.05,"s":"Se-pz"},{"e":0.394,"v":0.03,"s":"Se-pz"},{"e":0.573,"v":0.03,"s":"Se-pz"},{"e":0.693,"v":0.05,"s":"Se-pz"},{"e":0.722,"v":0.1,"s":"Se-pz"},{"e":0.752,"v":0.15,"s":"Se-pz"},{"e":0.812,"v":0.12,"s":"Se-pz"},{"e":0.872,"v":0.08,"s":"Se-pz"},{"e":0.931,"v":0.05,"s":"Se-pz"},{"e":0.991,"v":0.1,"s":"Se-pz"},{"e":1.027,"v":0.18,"s":"Se-pz"},{"e":1.066,"v":0.16,"s":"Se-pz"},{"e":1.125,"v":0.2,"s":"Se-pz"},{"e":1.185,"v":0.26,"s":"Se-pz"},{"e":1.215,"v":0.15,"s":"Se-pz"},{"e":1.29,"v":0.12,"s":"Se-pz"},{"e":1.379,"v":0.08,"s":"Se-pz"},{"e":1.469,"v":0.05,"s":"Se-pz"},{"e":1.528,"v":0.04,"s":"Se-pz"},{"e":1.678,"v":0.02,"s":"Se-pz"},{"e":1.827,"v":0.01,"s":"Se-pz"},{"e":2,"v":0.0,"s":"Se-pz"},
{"e":-2,"v":0.03,"s":"Se-px"},{"e":-1.904,"v":0.05,"s":"Se-px"},{"e":-1.845,"v":0.08,"s":"Se-px"},{"e":-1.785,"v":0.14,"s":"Se-px"},{"e":-1.725,"v":0.05,"s":"Se-px"},{"e":-1.666,"v":0.02,"s":"Se-px"},{"e":-1.606,"v":0.05,"s":"Se-px"},{"e":-1.516,"v":0.04,"s":"Se-px"},{"e":-1.427,"v":0.05,"s":"Se-px"},{"e":-1.397,"v":0.08,"s":"Se-px"},{"e":-1.337,"v":0.03,"s":"Se-px"},{"e":-1.278,"v":0.02,"s":"Se-px"},{"e":-1.218,"v":0.05,"s":"Se-px"},{"e":-1.158,"v":0.06,"s":"Se-px"},{"e":-1.107,"v":0.19,"s":"Se-px"},{"e":-1.069,"v":0.08,"s":"Se-px"},{"e":-0.979,"v":0.07,"s":"Se-px"},{"e":-0.919,"v":0.1,"s":"Se-px"},{"e":-0.86,"v":0.05,"s":"Se-px"},{"e":-0.77,"v":0.03,"s":"Se-px"},{"e":-0.704,"v":0.1,"s":"Se-px"},{"e":-0.681,"v":0.01,"s":"Se-px"},{"e":-0.561,"v":0.02,"s":"Se-px"},{"e":-0.501,"v":0.08,"s":"Se-px"},{"e":-0.457,"v":0.11,"s":"Se-px"},{"e":-0.427,"v":0.01,"s":"Se-px"},{"e":-0.263,"v":0.0,"s":"Se-px"},{"e":-0.203,"v":0.04,"s":"Se-px"},{"e":-0.143,"v":0.02,"s":"Se-px"},{"e":-0.069,"v":0.05,"s":"Se-px"},{"e":-0.039,"v":0.02,"s":"Se-px"},{"e":0,"v":0.0,"s":"Se-px"},{"e":0.185,"v":0.01,"s":"Se-px"},{"e":0.334,"v":0.02,"s":"Se-px"},{"e":0.484,"v":0.03,"s":"Se-px"},{"e":0.573,"v":0.04,"s":"Se-px"},{"e":0.603,"v":0.08,"s":"Se-px"},{"e":0.633,"v":0.05,"s":"Se-px"},{"e":0.693,"v":0.1,"s":"Se-px"},{"e":0.752,"v":0.12,"s":"Se-px"},{"e":0.797,"v":0.37,"s":"Se-px"},{"e":0.827,"v":0.1,"s":"Se-px"},{"e":0.872,"v":0.12,"s":"Se-px"},{"e":0.931,"v":0.08,"s":"Se-px"},{"e":0.991,"v":0.1,"s":"Se-px"},{"e":1.051,"v":0.15,"s":"Se-px"},{"e":1.096,"v":0.05,"s":"Se-px"},{"e":1.14,"v":0.15,"s":"Se-px"},{"e":1.185,"v":0.2,"s":"Se-px"},{"e":1.23,"v":0.15,"s":"Se-px"},{"e":1.304,"v":0.18,"s":"Se-px"},{"e":1.349,"v":0.1,"s":"Se-px"},{"e":1.409,"v":0.08,"s":"Se-px"},{"e":1.439,"v":0.12,"s":"Se-px"},{"e":1.454,"v":0.06,"s":"Se-px"},{"e":1.469,"v":0.08,"s":"Se-px"},{"e":1.484,"v":0.34,"s":"Se-px"},{"e":1.513,"v":0.1,"s":"Se-px"},{"e":1.588,"v":0.08,"s":"Se-px"},{"e":1.648,"v":0.05,"s":"Se-px"},{"e":1.722,"v":0.15,"s":"Se-px"},{"e":1.743,"v":0.24,"s":"Se-px"},{"e":1.782,"v":0.18,"s":"Se-px"},{"e":1.827,"v":0.15,"s":"Se-px"},{"e":1.887,"v":0.12,"s":"Se-px"},{"e":1.946,"v":0.11,"s":"Se-px"},{"e":2,"v":0.12,"s":"Se-px"}
]
},
"vconcat":[
{"hconcat":[
{"width":445,"height":362,"layer":[
{"data":{"name":"a1"},"mark":{"type":"line","strokeWidth":2},"encoding":{
"x":{"field":"e","type":"quantitative","scale":{"domain":[-2,2],"nice":false,"zero":false},"axis":{"orient":"bottom","values":[-2,-1.5,-1,-0.5,0,0.5,1,1.5,2],"labelExpr":"datum.value % 1 === 0 ? '' + datum.value : ''","tickSize":{"condition":{"test":"datum.value % 1 === 0","value":-8},"value":-5},"labelPadding":16,"title":null}},
"y":{"field":"v","type":"quantitative","scale":{"domain":[0,2],"nice":false},"axis":{"orient":"left","values":[0,0.25,0.5,0.75,1,1.25,1.5,1.75,2],"labelExpr":"datum.value % 0.5 === 0 ? format(datum.value, '.1f') : ''","tickSize":{"condition":{"test":"datum.value % 0.5 === 0","value":-8},"value":-5},"labelPadding":15,"title":"PDOS (states/ev)","titleX":-75,"titleY":211,"titleAngle":270,"titleAlign":"center","titleBaseline":"bottom","titleFontSize":28}},
"color":{"field":"s","type":"nominal","scale":{"domain":["Fe-dxy","Fe-dyz","Fe-dz2","Fe-dxz","Fe-dx2-y2"],"range":["#000000","#ff0000","#0000ff","#178217","#ff00ff"]},"legend":{"title":null,"orient":"none","legendX":289,"legendY":6,"symbolType":"M-1,0H4","symbolSize":256,"symbolStrokeWidth":2.5,"labelOffset":28}}}},
{"data":{"values":[{"e":0}]},"mark":{"type":"rule","strokeDash":[15,7],"strokeWidth":4,"color":"#000"},"encoding":{"x":{"field":"e","type":"quantitative","scale":{"domain":[-2,2],"nice":false,"zero":false},"axis":null}}},
{"data":{"values":[{"e":-1.613,"v":1.773,"t":"Bulk Fe"},{"e":-1.613,"v":1.58,"t":"Spin Majority"}]},"mark":{"type":"text","align":"left","baseline":"middle","fontSize":24},"encoding":{
"x":{"field":"e","type":"quantitative","scale":{"domain":[-2,2],"nice":false,"zero":false},"axis":{"orient":"top","values":[-2,-1.5,-1,-0.5,0,0.5,1,1.5,2],"labels":false,"tickSize":{"condition":{"test":"datum.value % 1 === 0","value":-8},"value":-5},"title":null}},
"y":{"field":"v","type":"quantitative","scale":{"domain":[0,2],"nice":false},"axis":{"orient":"right","values":[0,0.25,0.5,0.75,1,1.25,1.5,1.75,2],"labels":false,"tickSize":{"condition":{"test":"datum.value % 0.5 === 0","value":-8},"value":-5},"title":null}},
"text":{"field":"t"}}},
{"data":{"values":[{"e":-2.737,"v":1.746,"t":"(a)"}]},"mark":{"type":"text","align":"center","baseline":"middle","fontSize":24},"encoding":{
"x":{"field":"e","type":"quantitative","scale":{"domain":[-2,2],"nice":false,"zero":false},"axis":null},
"y":{"field":"v","type":"quantitative","scale":{"domain":[0,2],"nice":false},"axis":null},
"text":{"field":"t"}}}
],"resolve":{"axis":{"x":"independent","y":"independent"}}},
{"width":445,"height":362,"layer":[
{"data":{"name":"a2"},"mark":{"type":"line","strokeWidth":2},"encoding":{
"x":{"field":"e","type":"quantitative","scale":{"domain":[-2,2],"nice":false,"zero":false},"axis":{"orient":"bottom","values":[-2,-1.5,-1,-0.5,0,0.5,1,1.5,2],"labelExpr":"datum.value % 1 === 0 ? '' + datum.value : ''","tickSize":{"condition":{"test":"datum.value % 1 === 0","value":-8},"value":-5},"labelPadding":16,"title":null}},
"y":{"field":"v","type":"quantitative","scale":{"domain":[0,2],"nice":false},"axis":{"orient":"left","values":[0,0.25,0.5,0.75,1,1.25,1.5,1.75,2],"labels":false,"tickSize":{"condition":{"test":"datum.value % 0.5 === 0","value":-8},"value":-5},"title":null}},
"color":{"field":"s","type":"nominal","scale":{"domain":["Fe-dxy","Fe-dyz","Fe-dz2","Fe-dxz","Fe-dx2-y2"],"range":["#000000","#ff0000","#0000ff","#178217","#ff00ff"]},"legend":{"title":null,"orient":"none","legendX":284,"legendY":20,"symbolType":"M-1,0H4","symbolSize":256,"symbolStrokeWidth":2.5,"labelOffset":28}}}},
{"data":{"values":[{"e":0}]},"mark":{"type":"rule","strokeDash":[15,7],"strokeWidth":4,"color":"#000"},"encoding":{"x":{"field":"e","type":"quantitative","scale":{"domain":[-2,2],"nice":false,"zero":false},"axis":null}}},
{"data":{"values":[{"e":-1.82,"v":1.63,"t":"Bulk Fe"},{"e":-1.82,"v":1.442,"t":"Spin Minority"}]},"mark":{"type":"text","align":"left","baseline":"middle","fontSize":24},"encoding":{
"x":{"field":"e","type":"quantitative","scale":{"domain":[-2,2],"nice":false,"zero":false},"axis":{"orient":"top","values":[-2,-1.5,-1,-0.5,0,0.5,1,1.5,2],"labels":false,"tickSize":{"condition":{"test":"datum.value % 1 === 0","value":-8},"value":-5},"title":null}},
"y":{"field":"v","type":"quantitative","scale":{"domain":[0,2],"nice":false},"axis":{"orient":"right","values":[0,0.25,0.5,0.75,1,1.25,1.5,1.75,2],"labels":false,"tickSize":{"condition":{"test":"datum.value % 0.5 === 0","value":-8},"value":-5},"title":null}},
"text":{"field":"t"}}}
],"resolve":{"axis":{"x":"independent","y":"independent"}}}
],"spacing":16,"bounds":"flush","resolve":{"scale":{"color":"independent","x":"independent","y":"independent"},"legend":{"color":"independent"}}},
{"vconcat":[
{"hconcat":[
{"width":445,"height":329,"layer":[
{"data":{"name":"b1"},"mark":{"type":"line","strokeWidth":2},"encoding":{
"x":{"field":"e","type":"quantitative","scale":{"domain":[-2,2],"nice":false,"zero":false},"axis":{"orient":"bottom","values":[-2,-1.5,-1,-0.5,0,0.5,1,1.5,2],"labelExpr":"datum.value % 1 === 0 ? '' + datum.value : ''","tickSize":{"condition":{"test":"datum.value % 1 === 0","value":-8},"value":-5},"labelPadding":16,"title":null}},
"y":{"field":"v","type":"quantitative","scale":{"domain":[0,4],"nice":false},"axis":{"orient":"left","values":[0,0.25,0.5,0.75,1,1.25,1.5,1.75,2,2.25,2.5,2.75,3,3.25,3.5,3.75,4],"labelExpr":"datum.value % 0.5 === 0 ? format(datum.value, '.1f') : ''","tickSize":{"condition":{"test":"datum.value % 0.5 === 0","value":-8},"value":-5},"labelPadding":15,"title":"PDOS (states/ev)","titleX":-75,"titleY":182,"titleAngle":270,"titleAlign":"center","titleBaseline":"bottom","titleFontSize":28}},
"color":{"field":"s","type":"nominal","scale":{"domain":["Fe-dxy","Fe-dyz","Fe-dz2","Fe-dxz","Fe-dx2-y2"],"range":["#000000","#ff0000","#0000ff","#23898a","#ff00ff"]},"legend":{"title":null,"orient":"none","legendX":296,"legendY":17,"symbolType":"M-1,0H4","symbolSize":256,"symbolStrokeWidth":2.5,"labelOffset":28}}}},
{"data":{"values":[{"e":0}]},"mark":{"type":"rule","strokeDash":[15,7],"strokeWidth":4,"color":"#000"},"encoding":{"x":{"field":"e","type":"quantitative","scale":{"domain":[-2,2],"nice":false,"zero":false},"axis":null}}},
{"data":{"values":[{"e":-1.685,"v":3.185,"t":"Monolayer Fe"},{"e":-1.685,"v":2.76,"t":"Spin Majority"}]},"mark":{"type":"text","align":"left","baseline":"middle","fontSize":24},"encoding":{
"x":{"field":"e","type":"quantitative","scale":{"domain":[-2,2],"nice":false,"zero":false},"axis":{"orient":"top","values":[-2,-1.5,-1,-0.5,0,0.5,1,1.5,2],"labels":false,"tickSize":{"condition":{"test":"datum.value % 1 === 0","value":-8},"value":-5},"title":null}},
"y":{"field":"v","type":"quantitative","scale":{"domain":[0,4],"nice":false},"axis":{"orient":"right","values":[0,0.25,0.5,0.75,1,1.25,1.5,1.75,2,2.25,2.5,2.75,3,3.25,3.5,3.75,4],"labels":false,"tickSize":{"condition":{"test":"datum.value % 0.5 === 0","value":-8},"value":-5},"title":null}},
"text":{"field":"t"}}},
{"data":{"values":[{"e":-2.737,"v":3.842,"t":"(b)"}]},"mark":{"type":"text","align":"center","baseline":"middle","fontSize":24},"encoding":{
"x":{"field":"e","type":"quantitative","scale":{"domain":[-2,2],"nice":false,"zero":false},"axis":null},
"y":{"field":"v","type":"quantitative","scale":{"domain":[0,4],"nice":false},"axis":null},
"text":{"field":"t"}}}
],"resolve":{"axis":{"x":"independent","y":"independent"}}},
{"width":445,"height":329,"layer":[
{"data":{"name":"b2"},"mark":{"type":"line","strokeWidth":2},"encoding":{
"x":{"field":"e","type":"quantitative","scale":{"domain":[-2,2],"nice":false,"zero":false},"axis":{"orient":"bottom","values":[-2,-1.5,-1,-0.5,0,0.5,1,1.5,2],"labelExpr":"datum.value % 1 === 0 ? '' + datum.value : ''","tickSize":{"condition":{"test":"datum.value % 1 === 0","value":-8},"value":-5},"labelPadding":16,"title":null}},
"y":{"field":"v","type":"quantitative","scale":{"domain":[0,4],"nice":false},"axis":{"orient":"left","values":[0,0.25,0.5,0.75,1,1.25,1.5,1.75,2,2.25,2.5,2.75,3,3.25,3.5,3.75,4],"labels":false,"tickSize":{"condition":{"test":"datum.value % 0.5 === 0","value":-8},"value":-5},"title":null}},
"color":{"field":"s","type":"nominal","scale":{"domain":["Fe-dxy","Fe-dyz","Fe-dz2","Fe-dxz","Fe-dx2-y2"],"range":["#000000","#ff0000","#0000ff","#23898a","#ff00ff"]},"legend":{"title":null,"orient":"none","legendX":295,"legendY":8,"symbolType":"M-1,0H4","symbolSize":256,"symbolStrokeWidth":2.5,"labelOffset":28}}}},
{"data":{"values":[{"e":0}]},"mark":{"type":"rule","strokeDash":[15,7],"strokeWidth":4,"color":"#000"},"encoding":{"x":{"field":"e","type":"quantitative","scale":{"domain":[-2,2],"nice":false,"zero":false},"axis":null}}},
{"data":{"values":[{"e":-1.739,"v":3.185,"t":"Monolayer Fe"},{"e":-1.739,"v":2.76,"t":"Spin Minority"}]},"mark":{"type":"text","align":"left","baseline":"middle","fontSize":24},"encoding":{
"x":{"field":"e","type":"quantitative","scale":{"domain":[-2,2],"nice":false,"zero":false},"axis":{"orient":"top","values":[-2,-1.5,-1,-0.5,0,0.5,1,1.5,2],"labels":false,"tickSize":{"condition":{"test":"datum.value % 1 === 0","value":-8},"value":-5},"title":null}},
"y":{"field":"v","type":"quantitative","scale":{"domain":[0,4],"nice":false},"axis":{"orient":"right","values":[0,0.25,0.5,0.75,1,1.25,1.5,1.75,2,2.25,2.5,2.75,3,3.25,3.5,3.75,4],"labels":false,"tickSize":{"condition":{"test":"datum.value % 0.5 === 0","value":-8},"value":-5},"title":null}},
"text":{"field":"t"}}}
],"resolve":{"axis":{"x":"independent","y":"independent"}}}
],"spacing":16,"bounds":"flush","resolve":{"scale":{"color":"independent","x":"independent","y":"independent"},"legend":{"color":"independent"}}},
{"hconcat":[
{"width":445,"height":327,"layer":[
{"data":{"name":"c1"},"mark":{"type":"line","strokeWidth":2},"encoding":{
"x":{"field":"e","type":"quantitative","scale":{"domain":[-2,2],"nice":false,"zero":false},"axis":{"orient":"bottom","values":[-2,-1.5,-1,-0.5,0,0.5,1,1.5,2],"labelExpr":"datum.value % 1 === 0 ? '' + datum.value : ''","tickSize":{"condition":{"test":"datum.value % 1 === 0","value":-8},"value":-5},"labelPadding":16,"title":"Energy (eV)","titleX":471,"titleY":54,"titleAlign":"center","titleBaseline":"middle","titleFontSize":27}},
"y":{"field":"v","type":"quantitative","scale":{"domain":[0,1.2],"nice":false},"axis":{"orient":"left","values":[0,0.25,0.5,0.75,1],"labelExpr":"datum.value % 0.5 === 0 ? format(datum.value, '.1f') : ''","tickSize":{"condition":{"test":"datum.value % 0.5 === 0","value":-8},"value":-5},"labelPadding":15,"title":"PDOS (states/ev)","titleX":-75,"titleY":196,"titleAngle":270,"titleAlign":"center","titleBaseline":"bottom","titleFontSize":28}},
"color":{"field":"s","type":"nominal","scale":{"domain":["Se-py","Se-pz","Se-px"],"range":["#000000","#ff0000","#0000ff"]},"legend":{"title":null,"orient":"none","legendX":322,"legendY":14,"symbolType":"M-1,0H4","symbolSize":256,"symbolStrokeWidth":2.5,"labelOffset":28}}}},
{"data":{"values":[{"e":0}]},"mark":{"type":"rule","strokeDash":[15,7],"strokeWidth":4,"color":"#000"},"encoding":{"x":{"field":"e","type":"quantitative","scale":{"domain":[-2,2],"nice":false,"zero":false},"axis":null}}},
{"data":{"values":[{"e":-1.685,"v":0.958,"t":"Monoalyer"},{"e":-1.685,"v":0.833,"t":"Type-1 Se"}]},"mark":{"type":"text","align":"left","baseline":"middle","fontSize":24},"encoding":{
"x":{"field":"e","type":"quantitative","scale":{"domain":[-2,2],"nice":false,"zero":false},"axis":{"orient":"top","values":[-2,-1.5,-1,-0.5,0,0.5,1,1.5,2],"labels":false,"tickSize":{"condition":{"test":"datum.value % 1 === 0","value":-8},"value":-5},"title":null}},
"y":{"field":"v","type":"quantitative","scale":{"domain":[0,1.2],"nice":false},"axis":{"orient":"right","values":[0,0.25,0.5,0.75,1],"labels":false,"tickSize":{"condition":{"test":"datum.value % 0.5 === 0","value":-8},"value":-5},"title":null}},
"text":{"field":"t"}}},
{"data":{"values":[{"e":-2.737,"v":1.053,"t":"(c)"}]},"mark":{"type":"text","align":"center","baseline":"middle","fontSize":24},"encoding":{
"x":{"field":"e","type":"quantitative","scale":{"domain":[-2,2],"nice":false,"zero":false},"axis":null},
"y":{"field":"v","type":"quantitative","scale":{"domain":[0,1.2],"nice":false},"axis":null},
"text":{"field":"t"}}}
],"resolve":{"axis":{"x":"independent","y":"independent"}}},
{"width":445,"height":327,"layer":[
{"data":{"name":"c2"},"mark":{"type":"line","strokeWidth":2},"encoding":{
"x":{"field":"e","type":"quantitative","scale":{"domain":[-2,2],"nice":false,"zero":false},"axis":{"orient":"bottom","values":[-2,-1.5,-1,-0.5,0,0.5,1,1.5,2],"labelExpr":"datum.value % 1 === 0 ? '' + datum.value : ''","tickSize":{"condition":{"test":"datum.value % 1 === 0","value":-8},"value":-5},"labelPadding":16,"title":null}},
"y":{"field":"v","type":"quantitative","scale":{"domain":[0,1.2],"nice":false},"axis":{"orient":"left","values":[0,0.25,0.5,0.75,1],"labels":false,"tickSize":{"condition":{"test":"datum.value % 0.5 === 0","value":-8},"value":-5},"title":null}},
"color":{"field":"s","type":"nominal","scale":{"domain":["Se-py","Se-pz","Se-px"],"range":["#000000","#ff0000","#0000ff"]},"legend":{"title":null,"orient":"none","legendX":315,"legendY":9,"symbolType":"M-1,0H4","symbolSize":256,"symbolStrokeWidth":2.5,"labelOffset":28}}}},
{"data":{"values":[{"e":0}]},"mark":{"type":"rule","strokeDash":[15,7],"strokeWidth":4,"color":"#000"},"encoding":{"x":{"field":"e","type":"quantitative","scale":{"domain":[-2,2],"nice":false,"zero":false},"axis":null}}},
{"data":{"values":[{"e":-1.524,"v":0.686,"t":"Monolayer"},{"e":-1.524,"v":0.558,"t":"Type-2 Se"}]},"mark":{"type":"text","align":"left","baseline":"middle","fontSize":24},"encoding":{
"x":{"field":"e","type":"quantitative","scale":{"domain":[-2,2],"nice":false,"zero":false},"axis":{"orient":"top","values":[-2,-1.5,-1,-0.5,0,0.5,1,1.5,2],"labels":false,"tickSize":{"condition":{"test":"datum.value % 1 === 0","value":-8},"value":-5},"title":null}},
"y":{"field":"v","type":"quantitative","scale":{"domain":[0,1.2],"nice":false},"axis":{"orient":"right","values":[0,0.25,0.5,0.75,1],"labels":false,"tickSize":{"condition":{"test":"datum.value % 0.5 === 0","value":-8},"value":-5},"title":null}},
"text":{"field":"t"}}}
],"resolve":{"axis":{"x":"independent","y":"independent"}}}
],"spacing":16,"bounds":"flush","resolve":{"scale":{"color":"independent","x":"independent","y":"independent"},"legend":{"color":"independent"}}}
],"spacing":6,"resolve":{"scale":{"color":"independent","x":"independent","y":"independent"},"legend":{"color":"independent"}}}
],
"spacing":7,
"resolve":{"scale":{"color":"independent","x":"independent","y":"independent"},"legend":{"color":"independent"}}
}
